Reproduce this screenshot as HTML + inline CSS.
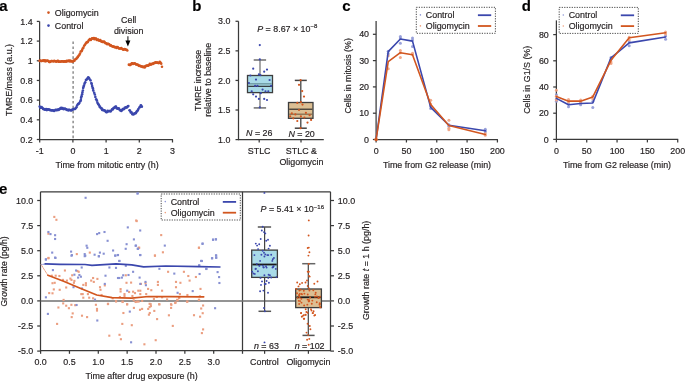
<!DOCTYPE html>
<html><head><meta charset="utf-8"><style>
html,body{margin:0;padding:0;background:#fff;width:685px;height:381px;overflow:hidden}
svg{display:block;font-family:"Liberation Sans",sans-serif;will-change:transform} text{stroke:#231f20;stroke-width:0.18px}
</style></head><body>
<svg width="685" height="381" viewBox="0 0 685 381">
<text x="-0.8" y="10.8" font-size="15" text-anchor="start" fill="#000" font-weight="bold">a</text>
<text x="192.3" y="10.9" font-size="15" text-anchor="start" fill="#000" font-weight="bold">b</text>
<text x="342.3" y="10.5" font-size="15" text-anchor="start" fill="#000" font-weight="bold">c</text>
<text x="521.8" y="10.7" font-size="15" text-anchor="start" fill="#000" font-weight="bold">d</text>
<text x="-0.9" y="194.4" font-size="15" text-anchor="start" fill="#000" font-weight="bold">e</text>
<line x1="39.6" y1="21.42" x2="39.6" y2="140" stroke="#3a3a3a" stroke-width="1.25"/>
<line x1="39.1" y1="139.5" x2="173" y2="139.5" stroke="#3a3a3a" stroke-width="1.25"/>
<line x1="36.8" y1="21.42" x2="39.6" y2="21.42" stroke="#3a3a3a" stroke-width="1.25"/>
<text x="32.6" y="24.58" font-size="8.9" text-anchor="end" fill="#231f20">1.4</text>
<line x1="36.8" y1="41.1" x2="39.6" y2="41.1" stroke="#3a3a3a" stroke-width="1.25"/>
<text x="32.6" y="44.26" font-size="8.9" text-anchor="end" fill="#231f20">1.2</text>
<line x1="36.8" y1="60.78" x2="39.6" y2="60.78" stroke="#3a3a3a" stroke-width="1.25"/>
<text x="32.6" y="63.94" font-size="8.9" text-anchor="end" fill="#231f20">1</text>
<line x1="36.8" y1="80.46" x2="39.6" y2="80.46" stroke="#3a3a3a" stroke-width="1.25"/>
<text x="32.6" y="83.62" font-size="8.9" text-anchor="end" fill="#231f20">0.8</text>
<line x1="36.8" y1="100.14" x2="39.6" y2="100.14" stroke="#3a3a3a" stroke-width="1.25"/>
<text x="32.6" y="103.3" font-size="8.9" text-anchor="end" fill="#231f20">0.6</text>
<line x1="36.8" y1="119.82" x2="39.6" y2="119.82" stroke="#3a3a3a" stroke-width="1.25"/>
<text x="32.6" y="122.98" font-size="8.9" text-anchor="end" fill="#231f20">0.4</text>
<line x1="36.8" y1="139.5" x2="39.6" y2="139.5" stroke="#3a3a3a" stroke-width="1.25"/>
<text x="32.6" y="142.66" font-size="8.9" text-anchor="end" fill="#231f20">0.2</text>
<line x1="39.7" y1="139.5" x2="39.7" y2="142.5" stroke="#3a3a3a" stroke-width="1.25"/>
<text x="39.7" y="153.76" font-size="8.9" text-anchor="middle" fill="#231f20">-1</text>
<line x1="72.9" y1="139.5" x2="72.9" y2="142.5" stroke="#3a3a3a" stroke-width="1.25"/>
<text x="72.9" y="153.76" font-size="8.9" text-anchor="middle" fill="#231f20">0</text>
<line x1="106.1" y1="139.5" x2="106.1" y2="142.5" stroke="#3a3a3a" stroke-width="1.25"/>
<text x="106.1" y="153.76" font-size="8.9" text-anchor="middle" fill="#231f20">1</text>
<line x1="139.3" y1="139.5" x2="139.3" y2="142.5" stroke="#3a3a3a" stroke-width="1.25"/>
<text x="139.3" y="153.76" font-size="8.9" text-anchor="middle" fill="#231f20">2</text>
<line x1="172.5" y1="139.5" x2="172.5" y2="142.5" stroke="#3a3a3a" stroke-width="1.25"/>
<text x="172.5" y="153.76" font-size="8.9" text-anchor="middle" fill="#231f20">3</text>
<text x="107" y="167.76" font-size="8.9" text-anchor="middle" fill="#231f20">Time from mitotic entry (h)</text>
<text x="11.86" y="80" font-size="8.9" text-anchor="middle" fill="#231f20" transform="rotate(-90 11.86 80)">TMRE/mass (a.u.)</text>
<line x1="73.1" y1="41.5" x2="73.1" y2="139" stroke="#707070" stroke-width="1.2" stroke-dasharray="2.6,2.35"/>
<circle cx="48.5" cy="12.6" r="1.3" fill="#d2561f"/>
<text x="54.8" y="15.76" font-size="8.9" text-anchor="start" fill="#231f20">Oligomycin</text>
<circle cx="48.5" cy="25.6" r="1.3" fill="#3b47ad"/>
<text x="54.8" y="28.76" font-size="8.9" text-anchor="start" fill="#231f20">Control</text>
<text x="128.7" y="22.76" font-size="8.9" text-anchor="middle" fill="#231f20">Cell</text>
<text x="128.7" y="33.96" font-size="8.9" text-anchor="middle" fill="#231f20">division</text>
<line x1="127.9" y1="36.2" x2="127.9" y2="42" stroke="#3a3a3a" stroke-width="1.25"/>
<path d="M125.4,40.6 L130.4,40.6 L127.9,46.4 Z" fill="#000"/>
<circle cx="39.55" cy="60.85" r="1.3" fill="#d2561f"/>
<circle cx="40.42" cy="60.64" r="1.3" fill="#d2561f"/>
<circle cx="41.15" cy="60.93" r="1.3" fill="#d2561f"/>
<circle cx="41.78" cy="61.01" r="1.3" fill="#d2561f"/>
<circle cx="42.55" cy="60.81" r="1.3" fill="#d2561f"/>
<circle cx="43.33" cy="60.27" r="1.3" fill="#d2561f"/>
<circle cx="44.21" cy="61.12" r="1.3" fill="#d2561f"/>
<circle cx="44.89" cy="60.24" r="1.3" fill="#d2561f"/>
<circle cx="45.75" cy="61.35" r="1.3" fill="#d2561f"/>
<circle cx="46.45" cy="60.81" r="1.3" fill="#d2561f"/>
<circle cx="47.29" cy="60.52" r="1.3" fill="#d2561f"/>
<circle cx="47.96" cy="61.01" r="1.3" fill="#d2561f"/>
<circle cx="48.46" cy="60.96" r="1.3" fill="#d2561f"/>
<circle cx="49.23" cy="62.04" r="1.3" fill="#d2561f"/>
<circle cx="49.9" cy="61.91" r="1.3" fill="#d2561f"/>
<circle cx="50.76" cy="61.52" r="1.3" fill="#d2561f"/>
<circle cx="51.44" cy="61" r="1.3" fill="#d2561f"/>
<circle cx="52.01" cy="61.07" r="1.3" fill="#d2561f"/>
<circle cx="52.91" cy="61.25" r="1.3" fill="#d2561f"/>
<circle cx="53.52" cy="61.34" r="1.3" fill="#d2561f"/>
<circle cx="54.27" cy="60.85" r="1.3" fill="#d2561f"/>
<circle cx="55.09" cy="61.26" r="1.3" fill="#d2561f"/>
<circle cx="55.64" cy="61.18" r="1.3" fill="#d2561f"/>
<circle cx="56.44" cy="61.66" r="1.3" fill="#d2561f"/>
<circle cx="57.21" cy="60.98" r="1.3" fill="#d2561f"/>
<circle cx="58" cy="60.85" r="1.3" fill="#d2561f"/>
<circle cx="58.55" cy="61.76" r="1.3" fill="#d2561f"/>
<circle cx="59.18" cy="61.5" r="1.3" fill="#d2561f"/>
<circle cx="59.86" cy="61.82" r="1.3" fill="#d2561f"/>
<circle cx="60.83" cy="61.62" r="1.3" fill="#d2561f"/>
<circle cx="61.61" cy="61.21" r="1.3" fill="#d2561f"/>
<circle cx="62.31" cy="61.5" r="1.3" fill="#d2561f"/>
<circle cx="63.02" cy="61.24" r="1.3" fill="#d2561f"/>
<circle cx="63.85" cy="61.8" r="1.3" fill="#d2561f"/>
<circle cx="64.49" cy="61.36" r="1.3" fill="#d2561f"/>
<circle cx="65.12" cy="61.34" r="1.3" fill="#d2561f"/>
<circle cx="66.04" cy="61.64" r="1.3" fill="#d2561f"/>
<circle cx="66.8" cy="60.72" r="1.3" fill="#d2561f"/>
<circle cx="67.37" cy="61.22" r="1.3" fill="#d2561f"/>
<circle cx="67.96" cy="60.95" r="1.3" fill="#d2561f"/>
<circle cx="68.7" cy="60.5" r="1.3" fill="#d2561f"/>
<circle cx="69.37" cy="61.35" r="1.3" fill="#d2561f"/>
<circle cx="70.09" cy="60.67" r="1.3" fill="#d2561f"/>
<circle cx="70.87" cy="61.48" r="1.3" fill="#d2561f"/>
<circle cx="71.47" cy="60.93" r="1.3" fill="#d2561f"/>
<circle cx="72.31" cy="61.5" r="1.3" fill="#d2561f"/>
<circle cx="73.1" cy="61.47" r="1.3" fill="#d2561f"/>
<circle cx="73.68" cy="60.46" r="1.3" fill="#d2561f"/>
<circle cx="74.46" cy="60.65" r="1.3" fill="#d2561f"/>
<circle cx="75.39" cy="59.27" r="1.3" fill="#d2561f"/>
<circle cx="75.9" cy="58.95" r="1.3" fill="#d2561f"/>
<circle cx="76.59" cy="58.51" r="1.3" fill="#d2561f"/>
<circle cx="77.36" cy="57.46" r="1.3" fill="#d2561f"/>
<circle cx="77.85" cy="56.89" r="1.3" fill="#d2561f"/>
<circle cx="78.63" cy="55.87" r="1.3" fill="#d2561f"/>
<circle cx="79.47" cy="54.81" r="1.3" fill="#d2561f"/>
<circle cx="80" cy="53.5" r="1.3" fill="#d2561f"/>
<circle cx="80.72" cy="51.55" r="1.3" fill="#d2561f"/>
<circle cx="81.45" cy="51.28" r="1.3" fill="#d2561f"/>
<circle cx="82.11" cy="50.09" r="1.3" fill="#d2561f"/>
<circle cx="82.73" cy="48.45" r="1.3" fill="#d2561f"/>
<circle cx="83.41" cy="47.64" r="1.3" fill="#d2561f"/>
<circle cx="84.17" cy="45.79" r="1.3" fill="#d2561f"/>
<circle cx="84.98" cy="44.79" r="1.3" fill="#d2561f"/>
<circle cx="85.79" cy="43.54" r="1.3" fill="#d2561f"/>
<circle cx="86.45" cy="42.55" r="1.3" fill="#d2561f"/>
<circle cx="87.14" cy="42.12" r="1.3" fill="#d2561f"/>
<circle cx="87.78" cy="42.09" r="1.3" fill="#d2561f"/>
<circle cx="88.61" cy="40.44" r="1.3" fill="#d2561f"/>
<circle cx="89.17" cy="40" r="1.3" fill="#d2561f"/>
<circle cx="89.86" cy="39.01" r="1.3" fill="#d2561f"/>
<circle cx="90.78" cy="39.94" r="1.3" fill="#d2561f"/>
<circle cx="91.45" cy="39.08" r="1.3" fill="#d2561f"/>
<circle cx="92.12" cy="38.38" r="1.3" fill="#d2561f"/>
<circle cx="92.97" cy="38.39" r="1.3" fill="#d2561f"/>
<circle cx="93.9" cy="38.06" r="1.3" fill="#d2561f"/>
<circle cx="94.39" cy="39.31" r="1.3" fill="#d2561f"/>
<circle cx="95.28" cy="38.49" r="1.3" fill="#d2561f"/>
<circle cx="96.01" cy="38.55" r="1.3" fill="#d2561f"/>
<circle cx="96.74" cy="40.01" r="1.3" fill="#d2561f"/>
<circle cx="97.58" cy="39.87" r="1.3" fill="#d2561f"/>
<circle cx="98.13" cy="39.66" r="1.3" fill="#d2561f"/>
<circle cx="98.83" cy="40.41" r="1.3" fill="#d2561f"/>
<circle cx="99.68" cy="40.64" r="1.3" fill="#d2561f"/>
<circle cx="100.35" cy="40.14" r="1.3" fill="#d2561f"/>
<circle cx="101.24" cy="41.49" r="1.3" fill="#d2561f"/>
<circle cx="101.99" cy="41.61" r="1.3" fill="#d2561f"/>
<circle cx="102.72" cy="41.88" r="1.3" fill="#d2561f"/>
<circle cx="103.29" cy="41.95" r="1.3" fill="#d2561f"/>
<circle cx="104.07" cy="41.67" r="1.3" fill="#d2561f"/>
<circle cx="104.72" cy="42.36" r="1.3" fill="#d2561f"/>
<circle cx="105.53" cy="43.25" r="1.3" fill="#d2561f"/>
<circle cx="106.48" cy="43.26" r="1.3" fill="#d2561f"/>
<circle cx="107.21" cy="44.29" r="1.3" fill="#d2561f"/>
<circle cx="107.96" cy="43.81" r="1.3" fill="#d2561f"/>
<circle cx="108.48" cy="43.96" r="1.3" fill="#d2561f"/>
<circle cx="109.21" cy="44.27" r="1.3" fill="#d2561f"/>
<circle cx="110.08" cy="45.5" r="1.3" fill="#d2561f"/>
<circle cx="110.88" cy="45.28" r="1.3" fill="#d2561f"/>
<circle cx="111.57" cy="46.03" r="1.3" fill="#d2561f"/>
<circle cx="112.14" cy="46.18" r="1.3" fill="#d2561f"/>
<circle cx="113.12" cy="46.67" r="1.3" fill="#d2561f"/>
<circle cx="113.78" cy="46.47" r="1.3" fill="#d2561f"/>
<circle cx="114.3" cy="47.08" r="1.3" fill="#d2561f"/>
<circle cx="115.05" cy="47.29" r="1.3" fill="#d2561f"/>
<circle cx="115.94" cy="46.96" r="1.3" fill="#d2561f"/>
<circle cx="116.47" cy="47.88" r="1.3" fill="#d2561f"/>
<circle cx="117.27" cy="47.07" r="1.3" fill="#d2561f"/>
<circle cx="117.79" cy="47.25" r="1.3" fill="#d2561f"/>
<circle cx="118.72" cy="48.3" r="1.3" fill="#d2561f"/>
<circle cx="119.19" cy="48.52" r="1.3" fill="#d2561f"/>
<circle cx="120.14" cy="48.5" r="1.3" fill="#d2561f"/>
<circle cx="120.7" cy="48.53" r="1.3" fill="#d2561f"/>
<circle cx="121.37" cy="48.01" r="1.3" fill="#d2561f"/>
<circle cx="122.36" cy="49" r="1.3" fill="#d2561f"/>
<circle cx="122.97" cy="49.54" r="1.3" fill="#d2561f"/>
<circle cx="123.68" cy="49.63" r="1.3" fill="#d2561f"/>
<circle cx="124.54" cy="48.94" r="1.3" fill="#d2561f"/>
<circle cx="125.11" cy="49.22" r="1.3" fill="#d2561f"/>
<circle cx="125.84" cy="49.77" r="1.3" fill="#d2561f"/>
<circle cx="126.59" cy="49.72" r="1.3" fill="#d2561f"/>
<circle cx="127.29" cy="50.53" r="1.3" fill="#d2561f"/>
<circle cx="128.86" cy="64.65" r="1.3" fill="#d2561f"/>
<circle cx="129.64" cy="65.05" r="1.3" fill="#d2561f"/>
<circle cx="130.3" cy="64.89" r="1.3" fill="#d2561f"/>
<circle cx="131.04" cy="64.22" r="1.3" fill="#d2561f"/>
<circle cx="131.76" cy="63.37" r="1.3" fill="#d2561f"/>
<circle cx="132.44" cy="63.41" r="1.3" fill="#d2561f"/>
<circle cx="133.03" cy="64.04" r="1.3" fill="#d2561f"/>
<circle cx="133.79" cy="63.44" r="1.3" fill="#d2561f"/>
<circle cx="134.67" cy="63.37" r="1.3" fill="#d2561f"/>
<circle cx="135.28" cy="63.7" r="1.3" fill="#d2561f"/>
<circle cx="136.07" cy="64.41" r="1.3" fill="#d2561f"/>
<circle cx="136.67" cy="64.49" r="1.3" fill="#d2561f"/>
<circle cx="137.44" cy="64.5" r="1.3" fill="#d2561f"/>
<circle cx="138.32" cy="65.17" r="1.3" fill="#d2561f"/>
<circle cx="138.99" cy="65.87" r="1.3" fill="#d2561f"/>
<circle cx="139.82" cy="65.83" r="1.3" fill="#d2561f"/>
<circle cx="140.45" cy="66.05" r="1.3" fill="#d2561f"/>
<circle cx="141.13" cy="66.44" r="1.3" fill="#d2561f"/>
<circle cx="141.83" cy="66.37" r="1.3" fill="#d2561f"/>
<circle cx="142.55" cy="67.05" r="1.3" fill="#d2561f"/>
<circle cx="143.33" cy="67.1" r="1.3" fill="#d2561f"/>
<circle cx="144.12" cy="66.44" r="1.3" fill="#d2561f"/>
<circle cx="144.72" cy="67.48" r="1.3" fill="#d2561f"/>
<circle cx="145.53" cy="66.07" r="1.3" fill="#d2561f"/>
<circle cx="146.04" cy="66.1" r="1.3" fill="#d2561f"/>
<circle cx="146.75" cy="65.48" r="1.3" fill="#d2561f"/>
<circle cx="147.47" cy="65.67" r="1.3" fill="#d2561f"/>
<circle cx="148.41" cy="65.6" r="1.3" fill="#d2561f"/>
<circle cx="148.95" cy="65.01" r="1.3" fill="#d2561f"/>
<circle cx="149.82" cy="63.9" r="1.3" fill="#d2561f"/>
<circle cx="150.61" cy="64.61" r="1.3" fill="#d2561f"/>
<circle cx="151.14" cy="64.45" r="1.3" fill="#d2561f"/>
<circle cx="151.93" cy="63.7" r="1.3" fill="#d2561f"/>
<circle cx="152.83" cy="64" r="1.3" fill="#d2561f"/>
<circle cx="153.31" cy="63.34" r="1.3" fill="#d2561f"/>
<circle cx="154.15" cy="63.08" r="1.3" fill="#d2561f"/>
<circle cx="154.78" cy="62.91" r="1.3" fill="#d2561f"/>
<circle cx="155.67" cy="62.38" r="1.3" fill="#d2561f"/>
<circle cx="156.33" cy="62.79" r="1.3" fill="#d2561f"/>
<circle cx="156.88" cy="62.52" r="1.3" fill="#d2561f"/>
<circle cx="157.78" cy="62.63" r="1.3" fill="#d2561f"/>
<circle cx="158.33" cy="63.12" r="1.3" fill="#d2561f"/>
<circle cx="159.26" cy="62.97" r="1.3" fill="#d2561f"/>
<circle cx="159.77" cy="61.92" r="1.3" fill="#d2561f"/>
<circle cx="160.46" cy="62.46" r="1.3" fill="#d2561f"/>
<circle cx="161.23" cy="63.67" r="1.3" fill="#d2561f"/>
<circle cx="161.98" cy="66.73" r="1.3" fill="#d2561f"/>
<circle cx="39.7" cy="106.49" r="1.3" fill="#3b47ad"/>
<circle cx="40.22" cy="107.66" r="1.3" fill="#3b47ad"/>
<circle cx="41.08" cy="107.69" r="1.3" fill="#3b47ad"/>
<circle cx="41.66" cy="107.17" r="1.3" fill="#3b47ad"/>
<circle cx="42.57" cy="107.96" r="1.3" fill="#3b47ad"/>
<circle cx="43.11" cy="108.94" r="1.3" fill="#3b47ad"/>
<circle cx="44.01" cy="109.08" r="1.3" fill="#3b47ad"/>
<circle cx="44.58" cy="109.46" r="1.3" fill="#3b47ad"/>
<circle cx="45.29" cy="109.65" r="1.3" fill="#3b47ad"/>
<circle cx="46.12" cy="109.14" r="1.3" fill="#3b47ad"/>
<circle cx="46.87" cy="110.08" r="1.3" fill="#3b47ad"/>
<circle cx="47.5" cy="109.22" r="1.3" fill="#3b47ad"/>
<circle cx="48.29" cy="109.53" r="1.3" fill="#3b47ad"/>
<circle cx="48.88" cy="109.61" r="1.3" fill="#3b47ad"/>
<circle cx="49.58" cy="109.84" r="1.3" fill="#3b47ad"/>
<circle cx="50.38" cy="110.15" r="1.3" fill="#3b47ad"/>
<circle cx="51.23" cy="110.3" r="1.3" fill="#3b47ad"/>
<circle cx="51.87" cy="110.33" r="1.3" fill="#3b47ad"/>
<circle cx="52.54" cy="110.3" r="1.3" fill="#3b47ad"/>
<circle cx="53.23" cy="110.47" r="1.3" fill="#3b47ad"/>
<circle cx="54.1" cy="110.9" r="1.3" fill="#3b47ad"/>
<circle cx="54.66" cy="110.54" r="1.3" fill="#3b47ad"/>
<circle cx="55.61" cy="109.8" r="1.3" fill="#3b47ad"/>
<circle cx="56.3" cy="109.96" r="1.3" fill="#3b47ad"/>
<circle cx="56.93" cy="110.22" r="1.3" fill="#3b47ad"/>
<circle cx="57.63" cy="109.53" r="1.3" fill="#3b47ad"/>
<circle cx="58.45" cy="109.88" r="1.3" fill="#3b47ad"/>
<circle cx="59.07" cy="109.42" r="1.3" fill="#3b47ad"/>
<circle cx="59.91" cy="108.9" r="1.3" fill="#3b47ad"/>
<circle cx="60.54" cy="108.27" r="1.3" fill="#3b47ad"/>
<circle cx="61.17" cy="107.72" r="1.3" fill="#3b47ad"/>
<circle cx="61.89" cy="108.67" r="1.3" fill="#3b47ad"/>
<circle cx="62.67" cy="108.08" r="1.3" fill="#3b47ad"/>
<circle cx="63.34" cy="109.12" r="1.3" fill="#3b47ad"/>
<circle cx="64.3" cy="109.05" r="1.3" fill="#3b47ad"/>
<circle cx="64.84" cy="108.65" r="1.3" fill="#3b47ad"/>
<circle cx="65.57" cy="109.09" r="1.3" fill="#3b47ad"/>
<circle cx="66.25" cy="109.23" r="1.3" fill="#3b47ad"/>
<circle cx="67" cy="110.06" r="1.3" fill="#3b47ad"/>
<circle cx="67.93" cy="109.68" r="1.3" fill="#3b47ad"/>
<circle cx="68.44" cy="110.38" r="1.3" fill="#3b47ad"/>
<circle cx="69.18" cy="109.74" r="1.3" fill="#3b47ad"/>
<circle cx="69.81" cy="109.93" r="1.3" fill="#3b47ad"/>
<circle cx="70.67" cy="110.25" r="1.3" fill="#3b47ad"/>
<circle cx="71.31" cy="110.41" r="1.3" fill="#3b47ad"/>
<circle cx="71.97" cy="109.81" r="1.3" fill="#3b47ad"/>
<circle cx="72.72" cy="109.71" r="1.3" fill="#3b47ad"/>
<circle cx="73.42" cy="108.94" r="1.3" fill="#3b47ad"/>
<circle cx="74.22" cy="108.93" r="1.3" fill="#3b47ad"/>
<circle cx="75.03" cy="109.04" r="1.3" fill="#3b47ad"/>
<circle cx="75.78" cy="108.1" r="1.3" fill="#3b47ad"/>
<circle cx="76.46" cy="107.29" r="1.3" fill="#3b47ad"/>
<circle cx="77.07" cy="105.47" r="1.3" fill="#3b47ad"/>
<circle cx="77.95" cy="104.14" r="1.3" fill="#3b47ad"/>
<circle cx="78.72" cy="103.79" r="1.3" fill="#3b47ad"/>
<circle cx="79.36" cy="103.04" r="1.3" fill="#3b47ad"/>
<circle cx="80.27" cy="101.22" r="1.3" fill="#3b47ad"/>
<circle cx="80.87" cy="99.91" r="1.3" fill="#3b47ad"/>
<circle cx="81.09" cy="97.63" r="1.3" fill="#3b47ad"/>
<circle cx="81.6" cy="96.14" r="1.3" fill="#3b47ad"/>
<circle cx="82.09" cy="94.22" r="1.3" fill="#3b47ad"/>
<circle cx="82.43" cy="92.41" r="1.3" fill="#3b47ad"/>
<circle cx="82.87" cy="90.47" r="1.3" fill="#3b47ad"/>
<circle cx="83.16" cy="87.93" r="1.3" fill="#3b47ad"/>
<circle cx="83.55" cy="86.68" r="1.3" fill="#3b47ad"/>
<circle cx="83.96" cy="85.62" r="1.3" fill="#3b47ad"/>
<circle cx="84.52" cy="83.67" r="1.3" fill="#3b47ad"/>
<circle cx="85.24" cy="82.33" r="1.3" fill="#3b47ad"/>
<circle cx="85.9" cy="80.05" r="1.3" fill="#3b47ad"/>
<circle cx="86.69" cy="79.62" r="1.3" fill="#3b47ad"/>
<circle cx="87.4" cy="78.6" r="1.3" fill="#3b47ad"/>
<circle cx="88.25" cy="77.24" r="1.3" fill="#3b47ad"/>
<circle cx="88.92" cy="78.08" r="1.3" fill="#3b47ad"/>
<circle cx="89.37" cy="78.7" r="1.3" fill="#3b47ad"/>
<circle cx="90.47" cy="80.37" r="1.3" fill="#3b47ad"/>
<circle cx="91.37" cy="83.12" r="1.3" fill="#3b47ad"/>
<circle cx="91.72" cy="84.03" r="1.3" fill="#3b47ad"/>
<circle cx="92.13" cy="86.1" r="1.3" fill="#3b47ad"/>
<circle cx="92.64" cy="87.69" r="1.3" fill="#3b47ad"/>
<circle cx="93.02" cy="88.67" r="1.3" fill="#3b47ad"/>
<circle cx="93.29" cy="90.58" r="1.3" fill="#3b47ad"/>
<circle cx="94.17" cy="92.75" r="1.3" fill="#3b47ad"/>
<circle cx="94.82" cy="94.47" r="1.3" fill="#3b47ad"/>
<circle cx="95.37" cy="96.9" r="1.3" fill="#3b47ad"/>
<circle cx="96.2" cy="99.27" r="1.3" fill="#3b47ad"/>
<circle cx="96.85" cy="100.58" r="1.3" fill="#3b47ad"/>
<circle cx="97.45" cy="102.63" r="1.3" fill="#3b47ad"/>
<circle cx="98.09" cy="104" r="1.3" fill="#3b47ad"/>
<circle cx="98.92" cy="104.91" r="1.3" fill="#3b47ad"/>
<circle cx="99.64" cy="106.67" r="1.3" fill="#3b47ad"/>
<circle cx="100.06" cy="106.85" r="1.3" fill="#3b47ad"/>
<circle cx="101" cy="108.31" r="1.3" fill="#3b47ad"/>
<circle cx="101.58" cy="108.2" r="1.3" fill="#3b47ad"/>
<circle cx="102.21" cy="109.88" r="1.3" fill="#3b47ad"/>
<circle cx="102.95" cy="109.91" r="1.3" fill="#3b47ad"/>
<circle cx="103.67" cy="110.33" r="1.3" fill="#3b47ad"/>
<circle cx="104.66" cy="110.32" r="1.3" fill="#3b47ad"/>
<circle cx="105.36" cy="111.31" r="1.3" fill="#3b47ad"/>
<circle cx="106.12" cy="112.06" r="1.3" fill="#3b47ad"/>
<circle cx="106.69" cy="112.18" r="1.3" fill="#3b47ad"/>
<circle cx="107.53" cy="110.92" r="1.3" fill="#3b47ad"/>
<circle cx="108.15" cy="111.39" r="1.3" fill="#3b47ad"/>
<circle cx="109.05" cy="111.01" r="1.3" fill="#3b47ad"/>
<circle cx="109.73" cy="110.93" r="1.3" fill="#3b47ad"/>
<circle cx="110.54" cy="111.44" r="1.3" fill="#3b47ad"/>
<circle cx="111.12" cy="110.73" r="1.3" fill="#3b47ad"/>
<circle cx="112.04" cy="109.31" r="1.3" fill="#3b47ad"/>
<circle cx="112.74" cy="109.48" r="1.3" fill="#3b47ad"/>
<circle cx="113.41" cy="108.33" r="1.3" fill="#3b47ad"/>
<circle cx="113.92" cy="107.86" r="1.3" fill="#3b47ad"/>
<circle cx="114.78" cy="107.52" r="1.3" fill="#3b47ad"/>
<circle cx="115.26" cy="106.71" r="1.3" fill="#3b47ad"/>
<circle cx="115.98" cy="106.66" r="1.3" fill="#3b47ad"/>
<circle cx="116.68" cy="108.14" r="1.3" fill="#3b47ad"/>
<circle cx="117.49" cy="108.72" r="1.3" fill="#3b47ad"/>
<circle cx="118.22" cy="108.3" r="1.3" fill="#3b47ad"/>
<circle cx="119.05" cy="108.65" r="1.3" fill="#3b47ad"/>
<circle cx="119.76" cy="110.09" r="1.3" fill="#3b47ad"/>
<circle cx="120.67" cy="110.36" r="1.3" fill="#3b47ad"/>
<circle cx="121.34" cy="110.94" r="1.3" fill="#3b47ad"/>
<circle cx="122.13" cy="110.05" r="1.3" fill="#3b47ad"/>
<circle cx="122.77" cy="108.99" r="1.3" fill="#3b47ad"/>
<circle cx="123.47" cy="109.11" r="1.3" fill="#3b47ad"/>
<circle cx="124.18" cy="108.95" r="1.3" fill="#3b47ad"/>
<circle cx="124.74" cy="107.76" r="1.3" fill="#3b47ad"/>
<circle cx="125.63" cy="107.46" r="1.3" fill="#3b47ad"/>
<circle cx="126.19" cy="107.33" r="1.3" fill="#3b47ad"/>
<circle cx="126.84" cy="107.43" r="1.3" fill="#3b47ad"/>
<circle cx="127.74" cy="106.4" r="1.3" fill="#3b47ad"/>
<circle cx="128.35" cy="106.04" r="1.3" fill="#3b47ad"/>
<circle cx="129.52" cy="110.26" r="1.3" fill="#3b47ad"/>
<circle cx="130.08" cy="110.74" r="1.3" fill="#3b47ad"/>
<circle cx="130.78" cy="112.49" r="1.3" fill="#3b47ad"/>
<circle cx="131.55" cy="112.39" r="1.3" fill="#3b47ad"/>
<circle cx="132.36" cy="114.18" r="1.3" fill="#3b47ad"/>
<circle cx="132.9" cy="113.85" r="1.3" fill="#3b47ad"/>
<circle cx="133.51" cy="114.57" r="1.3" fill="#3b47ad"/>
<circle cx="134.25" cy="113.79" r="1.3" fill="#3b47ad"/>
<circle cx="134.92" cy="113.22" r="1.3" fill="#3b47ad"/>
<circle cx="135.72" cy="113.25" r="1.3" fill="#3b47ad"/>
<circle cx="136.47" cy="111.85" r="1.3" fill="#3b47ad"/>
<circle cx="137.07" cy="111.21" r="1.3" fill="#3b47ad"/>
<circle cx="137.76" cy="110.19" r="1.3" fill="#3b47ad"/>
<circle cx="138.39" cy="108.94" r="1.3" fill="#3b47ad"/>
<circle cx="139.39" cy="107.56" r="1.3" fill="#3b47ad"/>
<circle cx="139.98" cy="107.04" r="1.3" fill="#3b47ad"/>
<circle cx="140.81" cy="105.33" r="1.3" fill="#3b47ad"/>
<circle cx="141.23" cy="105.92" r="1.3" fill="#3b47ad"/>
<circle cx="141.87" cy="106.73" r="1.3" fill="#3b47ad"/>
<line x1="238.5" y1="21.28" x2="238.5" y2="140.1" stroke="#3a3a3a" stroke-width="1.25"/>
<line x1="238" y1="139.6" x2="323.8" y2="139.6" stroke="#3a3a3a" stroke-width="1.25"/>
<line x1="235.5" y1="21.28" x2="238.5" y2="21.28" stroke="#3a3a3a" stroke-width="1.25"/>
<text x="230.4" y="24.44" font-size="8.9" text-anchor="end" fill="#231f20">3.0</text>
<line x1="235.5" y1="50.86" x2="238.5" y2="50.86" stroke="#3a3a3a" stroke-width="1.25"/>
<text x="230.4" y="54.02" font-size="8.9" text-anchor="end" fill="#231f20">2.5</text>
<line x1="235.5" y1="80.44" x2="238.5" y2="80.44" stroke="#3a3a3a" stroke-width="1.25"/>
<text x="230.4" y="83.6" font-size="8.9" text-anchor="end" fill="#231f20">2.0</text>
<line x1="235.5" y1="110.02" x2="238.5" y2="110.02" stroke="#3a3a3a" stroke-width="1.25"/>
<text x="230.4" y="113.18" font-size="8.9" text-anchor="end" fill="#231f20">1.5</text>
<line x1="235.5" y1="139.6" x2="238.5" y2="139.6" stroke="#3a3a3a" stroke-width="1.25"/>
<text x="230.4" y="142.76" font-size="8.9" text-anchor="end" fill="#231f20">1.0</text>
<line x1="259.2" y1="139.6" x2="259.2" y2="142.6" stroke="#3a3a3a" stroke-width="1.25"/>
<line x1="301" y1="139.6" x2="301" y2="142.6" stroke="#3a3a3a" stroke-width="1.25"/>
<text x="259.2" y="153.96" font-size="8.9" text-anchor="middle" fill="#231f20">STLC</text>
<text x="301.4" y="153.96" font-size="8.9" text-anchor="middle" fill="#231f20">STLC &amp;</text>
<text x="301.4" y="164.56" font-size="8.9" text-anchor="middle" fill="#231f20">Oligomycin</text>
<text x="201.06" y="80.3" font-size="8.9" text-anchor="middle" fill="#231f20" transform="rotate(-90 201.06 80.3)">TMRE increase</text>
<text x="211.26" y="79.8" font-size="8.9" text-anchor="middle" fill="#231f20" transform="rotate(-90 211.26 79.8)">relative to baseline</text>
<text x="257.2" y="31.6" font-size="8.9" text-anchor="start" fill="#231f20"><tspan font-style="italic">P</tspan> = 8.67 × 10<tspan font-size="6" dy="-3.3">−8</tspan></text>
<text x="246" y="135.96" font-size="8.9" text-anchor="start" fill="#231f20"><tspan font-style="italic">N</tspan> = 26</text>
<text x="288.4" y="136.96" font-size="8.9" text-anchor="start" fill="#231f20"><tspan font-style="italic">N</tspan> = 20</text>
<line x1="260" y1="60" x2="260" y2="107.9" stroke="#808080" stroke-width="1.4"/>
<line x1="253.7" y1="60" x2="266.1" y2="60" stroke="#777" stroke-width="1.6"/>
<line x1="253.7" y1="107.9" x2="266.1" y2="107.9" stroke="#777" stroke-width="1.6"/>
<rect x="247.5" y="75.5" width="25" height="17.1" fill="#a9dbe8" stroke="#3d3d3d" stroke-width="1.3"/>
<line x1="248.2" y1="83.8" x2="271.8" y2="83.8" stroke="#6f9aa3" stroke-width="1.4"/>
<line x1="248.2" y1="86.3" x2="271.8" y2="86.3" stroke="#222" stroke-width="1.1"/>
<line x1="300.8" y1="80.4" x2="300.8" y2="128.2" stroke="#444" stroke-width="1.3"/>
<line x1="294.8" y1="80.4" x2="306.8" y2="80.4" stroke="#444" stroke-width="1.5"/>
<line x1="294.8" y1="128.2" x2="306.8" y2="128.2" stroke="#444" stroke-width="1.5"/>
<rect x="288.5" y="102.5" width="24.5" height="15.8" fill="#dcbf93" stroke="#3d3d3d" stroke-width="1.3"/>
<line x1="289.2" y1="109.2" x2="312.3" y2="109.2" stroke="#222" stroke-width="1.1"/>
<line x1="289.2" y1="114.2" x2="312.3" y2="114.2" stroke="#7b664a" stroke-width="1.2"/>
<circle cx="259.8" cy="45.1" r="1.1" fill="#3b47ad"/>
<circle cx="259.8" cy="59.4" r="1.1" fill="#3b47ad"/>
<circle cx="253.2" cy="68.7" r="1.1" fill="#3b47ad"/>
<circle cx="264.2" cy="71.7" r="1.1" fill="#3b47ad"/>
<circle cx="267" cy="69.6" r="1.1" fill="#3b47ad"/>
<circle cx="258.9" cy="74.3" r="1.1" fill="#3b47ad"/>
<circle cx="260.4" cy="75.1" r="1.1" fill="#3b47ad"/>
<circle cx="250.4" cy="75.5" r="1.1" fill="#3b47ad"/>
<circle cx="256" cy="79.6" r="1.1" fill="#3b47ad"/>
<circle cx="269.6" cy="80" r="1.1" fill="#3b47ad"/>
<circle cx="248.9" cy="83" r="1.1" fill="#3b47ad"/>
<circle cx="255.1" cy="85.8" r="1.1" fill="#3b47ad"/>
<circle cx="257.5" cy="85.8" r="1.1" fill="#3b47ad"/>
<circle cx="271.1" cy="85.8" r="1.1" fill="#3b47ad"/>
<circle cx="251.7" cy="91.3" r="1.1" fill="#3b47ad"/>
<circle cx="262.6" cy="89.6" r="1.1" fill="#3b47ad"/>
<circle cx="265.5" cy="91.3" r="1.1" fill="#3b47ad"/>
<circle cx="268.3" cy="91.3" r="1.1" fill="#3b47ad"/>
<circle cx="260.8" cy="93.2" r="1.1" fill="#3b47ad"/>
<circle cx="253.2" cy="94.3" r="1.1" fill="#3b47ad"/>
<circle cx="256" cy="96.6" r="1.1" fill="#3b47ad"/>
<circle cx="258.9" cy="98.9" r="1.1" fill="#3b47ad"/>
<circle cx="264.2" cy="98.9" r="1.1" fill="#3b47ad"/>
<circle cx="267" cy="100" r="1.1" fill="#3b47ad"/>
<circle cx="259.8" cy="107.4" r="1.1" fill="#3b47ad"/>
<circle cx="300.6" cy="80.2" r="1.1" fill="#d2561f"/>
<circle cx="299" cy="84.8" r="1.1" fill="#d2561f"/>
<circle cx="302.2" cy="91.1" r="1.1" fill="#d2561f"/>
<circle cx="304" cy="96.6" r="1.1" fill="#d2561f"/>
<circle cx="297.3" cy="102.9" r="1.1" fill="#d2561f"/>
<circle cx="300.9" cy="102.1" r="1.1" fill="#d2561f"/>
<circle cx="302.5" cy="104.6" r="1.1" fill="#d2561f"/>
<circle cx="299" cy="110" r="1.1" fill="#d2561f"/>
<circle cx="291.8" cy="113.3" r="1.1" fill="#d2561f"/>
<circle cx="295.4" cy="114.4" r="1.1" fill="#d2561f"/>
<circle cx="305.9" cy="112.8" r="1.1" fill="#d2561f"/>
<circle cx="309.6" cy="115.2" r="1.1" fill="#d2561f"/>
<circle cx="290.2" cy="116.3" r="1.1" fill="#d2561f"/>
<circle cx="300.9" cy="116.3" r="1.1" fill="#d2561f"/>
<circle cx="293.3" cy="118.3" r="1.1" fill="#d2561f"/>
<circle cx="304.4" cy="117.5" r="1.1" fill="#d2561f"/>
<circle cx="311.1" cy="119.9" r="1.1" fill="#d2561f"/>
<circle cx="297.3" cy="121" r="1.1" fill="#d2561f"/>
<circle cx="307.5" cy="122.6" r="1.1" fill="#d2561f"/>
<circle cx="300.6" cy="128.2" r="1.1" fill="#d2561f"/>
<line x1="376.1" y1="21" x2="376.1" y2="140" stroke="#3a3a3a" stroke-width="1.25"/>
<line x1="375.6" y1="139.5" x2="497.92" y2="139.5" stroke="#3a3a3a" stroke-width="1.25"/>
<line x1="372.9" y1="139.5" x2="376.1" y2="139.5" stroke="#3a3a3a" stroke-width="1.25"/>
<text x="369" y="142.66" font-size="8.9" text-anchor="end" fill="#231f20">0</text>
<line x1="372.9" y1="113.2" x2="376.1" y2="113.2" stroke="#3a3a3a" stroke-width="1.25"/>
<text x="369" y="116.36" font-size="8.9" text-anchor="end" fill="#231f20">10</text>
<line x1="372.9" y1="86.9" x2="376.1" y2="86.9" stroke="#3a3a3a" stroke-width="1.25"/>
<text x="369" y="90.06" font-size="8.9" text-anchor="end" fill="#231f20">20</text>
<line x1="372.9" y1="60.6" x2="376.1" y2="60.6" stroke="#3a3a3a" stroke-width="1.25"/>
<text x="369" y="63.76" font-size="8.9" text-anchor="end" fill="#231f20">30</text>
<line x1="372.9" y1="34.3" x2="376.1" y2="34.3" stroke="#3a3a3a" stroke-width="1.25"/>
<text x="369" y="37.46" font-size="8.9" text-anchor="end" fill="#231f20">40</text>
<line x1="376.1" y1="139.5" x2="376.1" y2="142.5" stroke="#3a3a3a" stroke-width="1.25"/>
<text x="376.1" y="153.76" font-size="8.9" text-anchor="middle" fill="#231f20">0</text>
<line x1="406.43" y1="139.5" x2="406.43" y2="142.5" stroke="#3a3a3a" stroke-width="1.25"/>
<text x="406.43" y="153.76" font-size="8.9" text-anchor="middle" fill="#231f20">50</text>
<line x1="436.76" y1="139.5" x2="436.76" y2="142.5" stroke="#3a3a3a" stroke-width="1.25"/>
<text x="436.76" y="153.76" font-size="8.9" text-anchor="middle" fill="#231f20">100</text>
<line x1="467.09" y1="139.5" x2="467.09" y2="142.5" stroke="#3a3a3a" stroke-width="1.25"/>
<text x="467.09" y="153.76" font-size="8.9" text-anchor="middle" fill="#231f20">150</text>
<line x1="497.42" y1="139.5" x2="497.42" y2="142.5" stroke="#3a3a3a" stroke-width="1.25"/>
<text x="497.42" y="153.76" font-size="8.9" text-anchor="middle" fill="#231f20">200</text>
<text x="437" y="167.86" font-size="8.9" text-anchor="middle" fill="#231f20">Time from G2 release (min)</text>
<text x="351.16" y="75.8" font-size="8.9" text-anchor="middle" fill="#231f20" transform="rotate(-90 351.16 75.8)">Cells in mitosis (%)</text>
<circle cx="388.23" cy="51.13" r="1.5" fill="#8e97d6" fill-opacity="0.9"/>
<circle cx="388.23" cy="53.76" r="1.5" fill="#8e97d6" fill-opacity="0.9"/>
<circle cx="400.36" cy="36.4" r="1.5" fill="#8e97d6" fill-opacity="0.9"/>
<circle cx="400.36" cy="37.98" r="1.5" fill="#8e97d6" fill-opacity="0.9"/>
<circle cx="400.36" cy="43.24" r="1.5" fill="#8e97d6" fill-opacity="0.9"/>
<circle cx="412.5" cy="37.98" r="1.5" fill="#8e97d6" fill-opacity="0.9"/>
<circle cx="412.5" cy="40.09" r="1.5" fill="#8e97d6" fill-opacity="0.9"/>
<circle cx="412.5" cy="46.4" r="1.5" fill="#8e97d6" fill-opacity="0.9"/>
<circle cx="430.69" cy="106.1" r="1.5" fill="#8e97d6" fill-opacity="0.9"/>
<circle cx="430.69" cy="108.47" r="1.5" fill="#8e97d6" fill-opacity="0.9"/>
<circle cx="448.89" cy="124.77" r="1.5" fill="#8e97d6" fill-opacity="0.9"/>
<circle cx="448.89" cy="126.35" r="1.5" fill="#8e97d6" fill-opacity="0.9"/>
<circle cx="485.29" cy="129.24" r="1.5" fill="#8e97d6" fill-opacity="0.9"/>
<circle cx="485.29" cy="130.82" r="1.5" fill="#8e97d6" fill-opacity="0.9"/>
<circle cx="485.29" cy="131.87" r="1.5" fill="#8e97d6" fill-opacity="0.9"/>
<circle cx="388.23" cy="55.87" r="1.5" fill="#efa07e" fill-opacity="0.9"/>
<circle cx="388.23" cy="68.75" r="1.5" fill="#efa07e" fill-opacity="0.9"/>
<circle cx="400.36" cy="50.61" r="1.5" fill="#efa07e" fill-opacity="0.9"/>
<circle cx="400.36" cy="52.71" r="1.5" fill="#efa07e" fill-opacity="0.9"/>
<circle cx="400.36" cy="57.44" r="1.5" fill="#efa07e" fill-opacity="0.9"/>
<circle cx="412.5" cy="53.24" r="1.5" fill="#efa07e" fill-opacity="0.9"/>
<circle cx="412.5" cy="54.55" r="1.5" fill="#efa07e" fill-opacity="0.9"/>
<circle cx="430.69" cy="100.31" r="1.5" fill="#efa07e" fill-opacity="0.9"/>
<circle cx="430.69" cy="104" r="1.5" fill="#efa07e" fill-opacity="0.9"/>
<circle cx="448.89" cy="120.3" r="1.5" fill="#efa07e" fill-opacity="0.9"/>
<circle cx="448.89" cy="128.19" r="1.5" fill="#efa07e" fill-opacity="0.9"/>
<circle cx="448.89" cy="129.77" r="1.5" fill="#efa07e" fill-opacity="0.9"/>
<circle cx="485.29" cy="133.71" r="1.5" fill="#efa07e" fill-opacity="0.9"/>
<circle cx="485.29" cy="135.29" r="1.5" fill="#efa07e" fill-opacity="0.9"/>
<circle cx="376.1" cy="139.5" r="1.5" fill="#efa07e" fill-opacity="0.9"/>
<polyline points="376.1,139.5 388.23,51.66 400.36,39.03 412.5,41.14 430.69,107.41 448.89,125.3 485.29,130.82" fill="none" stroke="#3b47ad" stroke-width="1.6" stroke-linejoin="round" stroke-linecap="round"/>
<polyline points="376.1,139.5 388.23,61.65 400.36,52.71 412.5,54.81 430.69,104.52 448.89,125.56 485.29,134.5" fill="none" stroke="#d2561f" stroke-width="1.6" stroke-linejoin="round" stroke-linecap="round"/>
<circle cx="376.1" cy="139.5" r="1.7" fill="#d2561f"/>
<rect x="416.3" y="7.3" width="79.1" height="26" fill="none" stroke="#333" stroke-width="0.9" stroke-dasharray="1.2,1.3"/>
<circle cx="420.4" cy="14.9" r="0.8" fill="#8e97d6"/>
<text x="425.8" y="18.06" font-size="8.9" text-anchor="start" fill="#231f20">Control</text>
<circle cx="420.4" cy="25.9" r="0.8" fill="#efa07e"/>
<text x="425.8" y="29.06" font-size="8.9" text-anchor="start" fill="#231f20">Oligomycin</text>
<line x1="477.9" y1="15.2" x2="491.2" y2="15.2" stroke="#3b47ad" stroke-width="1.8"/>
<line x1="477.9" y1="26" x2="491.2" y2="26" stroke="#d2561f" stroke-width="1.8"/>
<line x1="556.4" y1="20.4" x2="556.4" y2="139.9" stroke="#3a3a3a" stroke-width="1.25"/>
<line x1="555.9" y1="139.4" x2="678.22" y2="139.4" stroke="#3a3a3a" stroke-width="1.25"/>
<line x1="553.2" y1="139.4" x2="556.4" y2="139.4" stroke="#3a3a3a" stroke-width="1.25"/>
<text x="548.8" y="142.56" font-size="8.9" text-anchor="end" fill="#231f20">0</text>
<line x1="553.2" y1="113.2" x2="556.4" y2="113.2" stroke="#3a3a3a" stroke-width="1.25"/>
<text x="548.8" y="116.36" font-size="8.9" text-anchor="end" fill="#231f20">20</text>
<line x1="553.2" y1="87" x2="556.4" y2="87" stroke="#3a3a3a" stroke-width="1.25"/>
<text x="548.8" y="90.16" font-size="8.9" text-anchor="end" fill="#231f20">40</text>
<line x1="553.2" y1="60.8" x2="556.4" y2="60.8" stroke="#3a3a3a" stroke-width="1.25"/>
<text x="548.8" y="63.96" font-size="8.9" text-anchor="end" fill="#231f20">60</text>
<line x1="553.2" y1="34.6" x2="556.4" y2="34.6" stroke="#3a3a3a" stroke-width="1.25"/>
<text x="548.8" y="37.76" font-size="8.9" text-anchor="end" fill="#231f20">80</text>
<line x1="556.4" y1="139.4" x2="556.4" y2="142.4" stroke="#3a3a3a" stroke-width="1.25"/>
<text x="556.4" y="153.76" font-size="8.9" text-anchor="middle" fill="#231f20">0</text>
<line x1="586.73" y1="139.4" x2="586.73" y2="142.4" stroke="#3a3a3a" stroke-width="1.25"/>
<text x="586.73" y="153.76" font-size="8.9" text-anchor="middle" fill="#231f20">50</text>
<line x1="617.06" y1="139.4" x2="617.06" y2="142.4" stroke="#3a3a3a" stroke-width="1.25"/>
<text x="617.06" y="153.76" font-size="8.9" text-anchor="middle" fill="#231f20">100</text>
<line x1="647.39" y1="139.4" x2="647.39" y2="142.4" stroke="#3a3a3a" stroke-width="1.25"/>
<text x="647.39" y="153.76" font-size="8.9" text-anchor="middle" fill="#231f20">150</text>
<line x1="677.72" y1="139.4" x2="677.72" y2="142.4" stroke="#3a3a3a" stroke-width="1.25"/>
<text x="677.72" y="153.76" font-size="8.9" text-anchor="middle" fill="#231f20">200</text>
<text x="617" y="167.86" font-size="8.9" text-anchor="middle" fill="#231f20">Time from G2 release (min)</text>
<text x="530.26" y="79.8" font-size="8.9" text-anchor="middle" fill="#231f20" transform="rotate(-90 530.26 79.8)">Cells in G1/S (%)</text>
<circle cx="556.4" cy="94.73" r="1.5" fill="#8e97d6" fill-opacity="0.9"/>
<circle cx="556.4" cy="101.15" r="1.5" fill="#8e97d6" fill-opacity="0.9"/>
<circle cx="556.4" cy="99.45" r="1.5" fill="#8e97d6" fill-opacity="0.9"/>
<circle cx="568.53" cy="106.65" r="1.5" fill="#8e97d6" fill-opacity="0.9"/>
<circle cx="568.53" cy="104.03" r="1.5" fill="#8e97d6" fill-opacity="0.9"/>
<circle cx="580.66" cy="104.69" r="1.5" fill="#8e97d6" fill-opacity="0.9"/>
<circle cx="580.66" cy="102.72" r="1.5" fill="#8e97d6" fill-opacity="0.9"/>
<circle cx="592.8" cy="107.57" r="1.5" fill="#8e97d6" fill-opacity="0.9"/>
<circle cx="592.8" cy="101.41" r="1.5" fill="#8e97d6" fill-opacity="0.9"/>
<circle cx="610.99" cy="57.53" r="1.5" fill="#8e97d6" fill-opacity="0.9"/>
<circle cx="610.99" cy="59.49" r="1.5" fill="#8e97d6" fill-opacity="0.9"/>
<circle cx="629.19" cy="45.73" r="1.5" fill="#8e97d6" fill-opacity="0.9"/>
<circle cx="629.19" cy="41.81" r="1.5" fill="#8e97d6" fill-opacity="0.9"/>
<circle cx="665.59" cy="39.19" r="1.5" fill="#8e97d6" fill-opacity="0.9"/>
<circle cx="665.59" cy="35.91" r="1.5" fill="#8e97d6" fill-opacity="0.9"/>
<circle cx="556.4" cy="90.14" r="1.5" fill="#efa07e" fill-opacity="0.9"/>
<circle cx="556.4" cy="96.17" r="1.5" fill="#efa07e" fill-opacity="0.9"/>
<circle cx="556.4" cy="100.1" r="1.5" fill="#efa07e" fill-opacity="0.9"/>
<circle cx="568.53" cy="99.45" r="1.5" fill="#efa07e" fill-opacity="0.9"/>
<circle cx="568.53" cy="102.06" r="1.5" fill="#efa07e" fill-opacity="0.9"/>
<circle cx="580.66" cy="100.1" r="1.5" fill="#efa07e" fill-opacity="0.9"/>
<circle cx="580.66" cy="102.72" r="1.5" fill="#efa07e" fill-opacity="0.9"/>
<circle cx="592.8" cy="96.17" r="1.5" fill="#efa07e" fill-opacity="0.9"/>
<circle cx="592.8" cy="98.79" r="1.5" fill="#efa07e" fill-opacity="0.9"/>
<circle cx="610.99" cy="62.11" r="1.5" fill="#efa07e" fill-opacity="0.9"/>
<circle cx="610.99" cy="63.42" r="1.5" fill="#efa07e" fill-opacity="0.9"/>
<circle cx="629.19" cy="37.22" r="1.5" fill="#efa07e" fill-opacity="0.9"/>
<circle cx="629.19" cy="39.84" r="1.5" fill="#efa07e" fill-opacity="0.9"/>
<circle cx="665.59" cy="31.98" r="1.5" fill="#efa07e" fill-opacity="0.9"/>
<circle cx="665.59" cy="33.95" r="1.5" fill="#efa07e" fill-opacity="0.9"/>
<polyline points="556.4,98.4 568.53,104.82 580.66,103.51 592.8,102.98 610.99,57.92 629.19,42.85 665.59,36.96" fill="none" stroke="#3b47ad" stroke-width="1.6" stroke-linejoin="round" stroke-linecap="round"/>
<polyline points="556.4,96.56 568.53,101.15 580.66,101.15 592.8,96.96 610.99,60.28 629.19,37.74 665.59,32.77" fill="none" stroke="#d2561f" stroke-width="1.6" stroke-linejoin="round" stroke-linecap="round"/>
<rect x="559.2" y="7.4" width="79.1" height="26" fill="none" stroke="#333" stroke-width="0.9" stroke-dasharray="1.2,1.3"/>
<circle cx="563.3" cy="15" r="0.8" fill="#8e97d6"/>
<text x="568.7" y="18.16" font-size="8.9" text-anchor="start" fill="#231f20">Control</text>
<circle cx="563.3" cy="26" r="0.8" fill="#efa07e"/>
<text x="568.7" y="29.16" font-size="8.9" text-anchor="start" fill="#231f20">Oligomycin</text>
<line x1="620.8" y1="15.3" x2="634.1" y2="15.3" stroke="#3b47ad" stroke-width="1.8"/>
<line x1="620.8" y1="26.1" x2="634.1" y2="26.1" stroke="#d2561f" stroke-width="1.8"/>
<line x1="40.5" y1="191.8" x2="330.5" y2="191.8" stroke="#3a3a3a" stroke-width="1.25"/>
<line x1="40.5" y1="191.8" x2="40.5" y2="351" stroke="#3a3a3a" stroke-width="1.25"/>
<line x1="242.5" y1="191.8" x2="242.5" y2="353.8" stroke="#3a3a3a" stroke-width="1.25"/>
<line x1="330.5" y1="191.8" x2="330.5" y2="351" stroke="#3a3a3a" stroke-width="1.25"/>
<line x1="40" y1="350.7" x2="331" y2="350.7" stroke="#3a3a3a" stroke-width="1.25"/>
<line x1="40.5" y1="300.9" x2="330.5" y2="300.9" stroke="#707070" stroke-width="1.5"/>
<line x1="37.2" y1="200.5" x2="40.5" y2="200.5" stroke="#3a3a3a" stroke-width="1.25"/>
<text x="33.3" y="203.66" font-size="8.9" text-anchor="end" fill="#231f20">10.0</text>
<line x1="330.5" y1="200.5" x2="334" y2="200.5" stroke="#3a3a3a" stroke-width="1.25"/>
<text x="337.8" y="203.66" font-size="8.9" text-anchor="start" fill="#231f20">10.0</text>
<line x1="37.2" y1="225.6" x2="40.5" y2="225.6" stroke="#3a3a3a" stroke-width="1.25"/>
<text x="33.3" y="228.76" font-size="8.9" text-anchor="end" fill="#231f20">7.5</text>
<line x1="330.5" y1="225.6" x2="334" y2="225.6" stroke="#3a3a3a" stroke-width="1.25"/>
<text x="337.8" y="228.76" font-size="8.9" text-anchor="start" fill="#231f20">7.5</text>
<line x1="37.2" y1="250.7" x2="40.5" y2="250.7" stroke="#3a3a3a" stroke-width="1.25"/>
<text x="33.3" y="253.86" font-size="8.9" text-anchor="end" fill="#231f20">5.0</text>
<line x1="330.5" y1="250.7" x2="334" y2="250.7" stroke="#3a3a3a" stroke-width="1.25"/>
<text x="337.8" y="253.86" font-size="8.9" text-anchor="start" fill="#231f20">5.0</text>
<line x1="37.2" y1="275.8" x2="40.5" y2="275.8" stroke="#3a3a3a" stroke-width="1.25"/>
<text x="33.3" y="278.96" font-size="8.9" text-anchor="end" fill="#231f20">2.5</text>
<line x1="330.5" y1="275.8" x2="334" y2="275.8" stroke="#3a3a3a" stroke-width="1.25"/>
<text x="337.8" y="278.96" font-size="8.9" text-anchor="start" fill="#231f20">2.5</text>
<line x1="37.2" y1="300.9" x2="40.5" y2="300.9" stroke="#3a3a3a" stroke-width="1.25"/>
<text x="33.3" y="304.06" font-size="8.9" text-anchor="end" fill="#231f20">0.0</text>
<line x1="330.5" y1="300.9" x2="334" y2="300.9" stroke="#3a3a3a" stroke-width="1.25"/>
<text x="337.8" y="304.06" font-size="8.9" text-anchor="start" fill="#231f20">0.0</text>
<line x1="37.2" y1="326" x2="40.5" y2="326" stroke="#3a3a3a" stroke-width="1.25"/>
<text x="33.3" y="329.16" font-size="8.9" text-anchor="end" fill="#231f20">-2.5</text>
<line x1="330.5" y1="326" x2="334" y2="326" stroke="#3a3a3a" stroke-width="1.25"/>
<text x="337.8" y="329.16" font-size="8.9" text-anchor="start" fill="#231f20">-2.5</text>
<line x1="37.2" y1="351.1" x2="40.5" y2="351.1" stroke="#3a3a3a" stroke-width="1.25"/>
<text x="33.3" y="354.26" font-size="8.9" text-anchor="end" fill="#231f20">-5.0</text>
<line x1="330.5" y1="351.1" x2="334" y2="351.1" stroke="#3a3a3a" stroke-width="1.25"/>
<text x="337.8" y="354.26" font-size="8.9" text-anchor="start" fill="#231f20">-5.0</text>
<line x1="40.6" y1="350.7" x2="40.6" y2="353.8" stroke="#3a3a3a" stroke-width="1.25"/>
<text x="40.6" y="365.16" font-size="8.9" text-anchor="middle" fill="#231f20">0.0</text>
<line x1="69.45" y1="350.7" x2="69.45" y2="353.8" stroke="#3a3a3a" stroke-width="1.25"/>
<text x="69.45" y="365.16" font-size="8.9" text-anchor="middle" fill="#231f20">0.5</text>
<line x1="98.3" y1="350.7" x2="98.3" y2="353.8" stroke="#3a3a3a" stroke-width="1.25"/>
<text x="98.3" y="365.16" font-size="8.9" text-anchor="middle" fill="#231f20">1.0</text>
<line x1="127.15" y1="350.7" x2="127.15" y2="353.8" stroke="#3a3a3a" stroke-width="1.25"/>
<text x="127.15" y="365.16" font-size="8.9" text-anchor="middle" fill="#231f20">1.5</text>
<line x1="156" y1="350.7" x2="156" y2="353.8" stroke="#3a3a3a" stroke-width="1.25"/>
<text x="156" y="365.16" font-size="8.9" text-anchor="middle" fill="#231f20">2.0</text>
<line x1="184.85" y1="350.7" x2="184.85" y2="353.8" stroke="#3a3a3a" stroke-width="1.25"/>
<text x="184.85" y="365.16" font-size="8.9" text-anchor="middle" fill="#231f20">2.5</text>
<line x1="213.7" y1="350.7" x2="213.7" y2="353.8" stroke="#3a3a3a" stroke-width="1.25"/>
<text x="213.7" y="365.16" font-size="8.9" text-anchor="middle" fill="#231f20">3.0</text>
<line x1="264.6" y1="350.7" x2="264.6" y2="353.8" stroke="#3a3a3a" stroke-width="1.25"/>
<line x1="308.4" y1="350.7" x2="308.4" y2="353.8" stroke="#3a3a3a" stroke-width="1.25"/>
<text x="141.6" y="378.96" font-size="8.9" text-anchor="middle" fill="#231f20">Time after drug exposure (h)</text>
<text x="264.4" y="364.56" font-size="8.9" text-anchor="middle" fill="#231f20">Control</text>
<text x="308.4" y="364.56" font-size="8.9" text-anchor="middle" fill="#231f20">Oligomycin</text>
<text x="7.47" y="271.4" font-size="8.65" text-anchor="middle" fill="#231f20" transform="rotate(-90 7.47 271.4)">Growth rate (pg/h)</text>
<text x="369.36" y="270.4" font-size="8.9" text-anchor="middle" fill="#231f20" transform="rotate(-90 369.36 270.4)">Growth rate <tspan font-style="italic">t</tspan> = 1 h (pg/h)</text>
<text x="260.5" y="212" font-size="8.9" text-anchor="start" fill="#231f20"><tspan font-style="italic">P</tspan> = 5.41 × 10<tspan font-size="6" dy="-3.3">−16</tspan></text>
<text x="253.9" y="349.3" font-size="8.9" text-anchor="start" fill="#231f20"><tspan font-style="italic">n</tspan> = 63</text>
<text x="294.7" y="349.3" font-size="8.9" text-anchor="start" fill="#231f20"><tspan font-style="italic">n</tspan> = 102</text>
<rect x="161.2" y="194" width="79.1" height="26" fill="none" stroke="#333" stroke-width="0.9" stroke-dasharray="1.2,1.3"/>
<circle cx="165.3" cy="201.6" r="0.8" fill="#8e97d6"/>
<text x="170.7" y="204.76" font-size="8.9" text-anchor="start" fill="#231f20">Control</text>
<circle cx="165.3" cy="212.6" r="0.8" fill="#efa07e"/>
<text x="170.7" y="215.76" font-size="8.9" text-anchor="start" fill="#231f20">Oligomycin</text>
<line x1="222.8" y1="201.9" x2="236.1" y2="201.9" stroke="#3b47ad" stroke-width="1.8"/>
<line x1="222.8" y1="212.7" x2="236.1" y2="212.7" stroke="#d2561f" stroke-width="1.8"/>
<rect x="53.25" y="215.85" width="2.1" height="2.1" fill="#eb9e80" stroke="none" stroke-width="0"/>
<rect x="55.35" y="218.75" width="2.1" height="2.1" fill="#eb9e80" stroke="none" stroke-width="0"/>
<rect x="47.35" y="232.65" width="2.1" height="2.1" fill="#eb9e80" stroke="none" stroke-width="0"/>
<rect x="75.75" y="253.05" width="2.1" height="2.1" fill="#eb9e80" stroke="none" stroke-width="0"/>
<rect x="88.75" y="251.55" width="2.1" height="2.1" fill="#eb9e80" stroke="none" stroke-width="0"/>
<rect x="47.35" y="257.25" width="2.1" height="2.1" fill="#eb9e80" stroke="none" stroke-width="0"/>
<rect x="135.15" y="219.45" width="2.1" height="2.1" fill="#eb9e80" stroke="none" stroke-width="0"/>
<rect x="137.65" y="246.75" width="2.1" height="2.1" fill="#eb9e80" stroke="none" stroke-width="0"/>
<rect x="135.65" y="220.05" width="2.1" height="2.1" fill="#eb9e80" stroke="none" stroke-width="0"/>
<rect x="138.15" y="246.65" width="2.1" height="2.1" fill="#eb9e80" stroke="none" stroke-width="0"/>
<rect x="160.15" y="234.05" width="2.1" height="2.1" fill="#eb9e80" stroke="none" stroke-width="0"/>
<rect x="161.85" y="251.25" width="2.1" height="2.1" fill="#eb9e80" stroke="none" stroke-width="0"/>
<rect x="153.85" y="254.45" width="2.1" height="2.1" fill="#eb9e80" stroke="none" stroke-width="0"/>
<rect x="197.95" y="246.65" width="2.1" height="2.1" fill="#eb9e80" stroke="none" stroke-width="0"/>
<rect x="197.85" y="246.75" width="2.1" height="2.1" fill="#eb9e80" stroke="none" stroke-width="0"/>
<rect x="47.45" y="256.85" width="2.1" height="2.1" fill="#eb9e80" stroke="none" stroke-width="0"/>
<rect x="63.85" y="269.45" width="2.1" height="2.1" fill="#eb9e80" stroke="none" stroke-width="0"/>
<rect x="76.35" y="269.95" width="2.1" height="2.1" fill="#eb9e80" stroke="none" stroke-width="0"/>
<rect x="77.65" y="270.75" width="2.1" height="2.1" fill="#eb9e80" stroke="none" stroke-width="0"/>
<rect x="50.75" y="274.65" width="2.1" height="2.1" fill="#eb9e80" stroke="none" stroke-width="0"/>
<rect x="54.65" y="274.65" width="2.1" height="2.1" fill="#eb9e80" stroke="none" stroke-width="0"/>
<rect x="58.35" y="274.95" width="2.1" height="2.1" fill="#eb9e80" stroke="none" stroke-width="0"/>
<rect x="71.15" y="274.25" width="2.1" height="2.1" fill="#eb9e80" stroke="none" stroke-width="0"/>
<rect x="69.35" y="277.55" width="2.1" height="2.1" fill="#eb9e80" stroke="none" stroke-width="0"/>
<rect x="61.95" y="278.85" width="2.1" height="2.1" fill="#eb9e80" stroke="none" stroke-width="0"/>
<rect x="65.85" y="279.55" width="2.1" height="2.1" fill="#eb9e80" stroke="none" stroke-width="0"/>
<rect x="70.45" y="278.85" width="2.1" height="2.1" fill="#eb9e80" stroke="none" stroke-width="0"/>
<rect x="73.35" y="279.85" width="2.1" height="2.1" fill="#eb9e80" stroke="none" stroke-width="0"/>
<rect x="72.85" y="281.75" width="2.1" height="2.1" fill="#eb9e80" stroke="none" stroke-width="0"/>
<rect x="51.45" y="282.15" width="2.1" height="2.1" fill="#eb9e80" stroke="none" stroke-width="0"/>
<rect x="53.65" y="281.75" width="2.1" height="2.1" fill="#eb9e80" stroke="none" stroke-width="0"/>
<rect x="65.15" y="286.45" width="2.1" height="2.1" fill="#eb9e80" stroke="none" stroke-width="0"/>
<rect x="52.75" y="288.35" width="2.1" height="2.1" fill="#eb9e80" stroke="none" stroke-width="0"/>
<rect x="58.65" y="288.75" width="2.1" height="2.1" fill="#eb9e80" stroke="none" stroke-width="0"/>
<rect x="48.15" y="292.05" width="2.1" height="2.1" fill="#eb9e80" stroke="none" stroke-width="0"/>
<rect x="51.45" y="292.25" width="2.1" height="2.1" fill="#eb9e80" stroke="none" stroke-width="0"/>
<rect x="82.25" y="283.85" width="2.1" height="2.1" fill="#eb9e80" stroke="none" stroke-width="0"/>
<rect x="84.85" y="282.15" width="2.1" height="2.1" fill="#eb9e80" stroke="none" stroke-width="0"/>
<rect x="84.85" y="284.15" width="2.1" height="2.1" fill="#eb9e80" stroke="none" stroke-width="0"/>
<rect x="90.15" y="279.55" width="2.1" height="2.1" fill="#eb9e80" stroke="none" stroke-width="0"/>
<rect x="92.05" y="276.95" width="2.1" height="2.1" fill="#eb9e80" stroke="none" stroke-width="0"/>
<rect x="92.75" y="280.85" width="2.1" height="2.1" fill="#eb9e80" stroke="none" stroke-width="0"/>
<rect x="80.25" y="293.05" width="2.1" height="2.1" fill="#eb9e80" stroke="none" stroke-width="0"/>
<rect x="81.65" y="293.05" width="2.1" height="2.1" fill="#eb9e80" stroke="none" stroke-width="0"/>
<rect x="82.25" y="296.65" width="2.1" height="2.1" fill="#eb9e80" stroke="none" stroke-width="0"/>
<rect x="86.85" y="293.05" width="2.1" height="2.1" fill="#eb9e80" stroke="none" stroke-width="0"/>
<rect x="88.15" y="296.65" width="2.1" height="2.1" fill="#eb9e80" stroke="none" stroke-width="0"/>
<rect x="62.55" y="298.85" width="2.1" height="2.1" fill="#eb9e80" stroke="none" stroke-width="0"/>
<rect x="92.05" y="297.25" width="2.1" height="2.1" fill="#eb9e80" stroke="none" stroke-width="0"/>
<rect x="96.35" y="277.85" width="2.1" height="2.1" fill="#eb9e80" stroke="none" stroke-width="0"/>
<rect x="124.75" y="274.25" width="2.1" height="2.1" fill="#eb9e80" stroke="none" stroke-width="0"/>
<rect x="125.45" y="281.75" width="2.1" height="2.1" fill="#eb9e80" stroke="none" stroke-width="0"/>
<rect x="130.05" y="281.55" width="2.1" height="2.1" fill="#eb9e80" stroke="none" stroke-width="0"/>
<rect x="139.85" y="282.85" width="2.1" height="2.1" fill="#eb9e80" stroke="none" stroke-width="0"/>
<rect x="144.45" y="282.15" width="2.1" height="2.1" fill="#eb9e80" stroke="none" stroke-width="0"/>
<rect x="103.75" y="284.35" width="2.1" height="2.1" fill="#eb9e80" stroke="none" stroke-width="0"/>
<rect x="98.95" y="286.15" width="2.1" height="2.1" fill="#eb9e80" stroke="none" stroke-width="0"/>
<rect x="99.45" y="288.75" width="2.1" height="2.1" fill="#eb9e80" stroke="none" stroke-width="0"/>
<rect x="119.55" y="288.05" width="2.1" height="2.1" fill="#eb9e80" stroke="none" stroke-width="0"/>
<rect x="119.55" y="290.45" width="2.1" height="2.1" fill="#eb9e80" stroke="none" stroke-width="0"/>
<rect x="128.05" y="290.95" width="2.1" height="2.1" fill="#eb9e80" stroke="none" stroke-width="0"/>
<rect x="132.05" y="290.65" width="2.1" height="2.1" fill="#eb9e80" stroke="none" stroke-width="0"/>
<rect x="133.95" y="292.05" width="2.1" height="2.1" fill="#eb9e80" stroke="none" stroke-width="0"/>
<rect x="137.25" y="289.65" width="2.1" height="2.1" fill="#eb9e80" stroke="none" stroke-width="0"/>
<rect x="139.25" y="289.65" width="2.1" height="2.1" fill="#eb9e80" stroke="none" stroke-width="0"/>
<rect x="139.25" y="293.05" width="2.1" height="2.1" fill="#eb9e80" stroke="none" stroke-width="0"/>
<rect x="145.15" y="293.05" width="2.1" height="2.1" fill="#eb9e80" stroke="none" stroke-width="0"/>
<rect x="147.05" y="287.85" width="2.1" height="2.1" fill="#eb9e80" stroke="none" stroke-width="0"/>
<rect x="123.45" y="293.05" width="2.1" height="2.1" fill="#eb9e80" stroke="none" stroke-width="0"/>
<rect x="123.45" y="294.95" width="2.1" height="2.1" fill="#eb9e80" stroke="none" stroke-width="0"/>
<rect x="131.35" y="294.95" width="2.1" height="2.1" fill="#eb9e80" stroke="none" stroke-width="0"/>
<rect x="100.55" y="293.95" width="2.1" height="2.1" fill="#eb9e80" stroke="none" stroke-width="0"/>
<rect x="111.65" y="297.25" width="2.1" height="2.1" fill="#eb9e80" stroke="none" stroke-width="0"/>
<rect x="118.85" y="295.95" width="2.1" height="2.1" fill="#eb9e80" stroke="none" stroke-width="0"/>
<rect x="114.95" y="300.15" width="2.1" height="2.1" fill="#eb9e80" stroke="none" stroke-width="0"/>
<rect x="121.55" y="300.55" width="2.1" height="2.1" fill="#eb9e80" stroke="none" stroke-width="0"/>
<rect x="132.65" y="299.25" width="2.1" height="2.1" fill="#eb9e80" stroke="none" stroke-width="0"/>
<rect x="135.95" y="300.55" width="2.1" height="2.1" fill="#eb9e80" stroke="none" stroke-width="0"/>
<rect x="141.15" y="299.85" width="2.1" height="2.1" fill="#eb9e80" stroke="none" stroke-width="0"/>
<rect x="107.05" y="302.75" width="2.1" height="2.1" fill="#eb9e80" stroke="none" stroke-width="0"/>
<rect x="126.15" y="303.15" width="2.1" height="2.1" fill="#eb9e80" stroke="none" stroke-width="0"/>
<rect x="153.95" y="254.65" width="2.1" height="2.1" fill="#eb9e80" stroke="none" stroke-width="0"/>
<rect x="167.05" y="270.75" width="2.1" height="2.1" fill="#eb9e80" stroke="none" stroke-width="0"/>
<rect x="182.85" y="270.75" width="2.1" height="2.1" fill="#eb9e80" stroke="none" stroke-width="0"/>
<rect x="187.25" y="274.95" width="2.1" height="2.1" fill="#eb9e80" stroke="none" stroke-width="0"/>
<rect x="194.85" y="275.95" width="2.1" height="2.1" fill="#eb9e80" stroke="none" stroke-width="0"/>
<rect x="188.55" y="279.55" width="2.1" height="2.1" fill="#eb9e80" stroke="none" stroke-width="0"/>
<rect x="156.85" y="280.85" width="2.1" height="2.1" fill="#eb9e80" stroke="none" stroke-width="0"/>
<rect x="156.85" y="283.85" width="2.1" height="2.1" fill="#eb9e80" stroke="none" stroke-width="0"/>
<rect x="174.95" y="280.85" width="2.1" height="2.1" fill="#eb9e80" stroke="none" stroke-width="0"/>
<rect x="179.35" y="281.75" width="2.1" height="2.1" fill="#eb9e80" stroke="none" stroke-width="0"/>
<rect x="174.95" y="286.15" width="2.1" height="2.1" fill="#eb9e80" stroke="none" stroke-width="0"/>
<rect x="199.45" y="287.85" width="2.1" height="2.1" fill="#eb9e80" stroke="none" stroke-width="0"/>
<rect x="150.25" y="289.15" width="2.1" height="2.1" fill="#eb9e80" stroke="none" stroke-width="0"/>
<rect x="161.05" y="289.65" width="2.1" height="2.1" fill="#eb9e80" stroke="none" stroke-width="0"/>
<rect x="178.85" y="293.05" width="2.1" height="2.1" fill="#eb9e80" stroke="none" stroke-width="0"/>
<rect x="186.35" y="293.95" width="2.1" height="2.1" fill="#eb9e80" stroke="none" stroke-width="0"/>
<rect x="152.85" y="297.95" width="2.1" height="2.1" fill="#eb9e80" stroke="none" stroke-width="0"/>
<rect x="155.75" y="295.95" width="2.1" height="2.1" fill="#eb9e80" stroke="none" stroke-width="0"/>
<rect x="161.05" y="296.25" width="2.1" height="2.1" fill="#eb9e80" stroke="none" stroke-width="0"/>
<rect x="166.05" y="298.35" width="2.1" height="2.1" fill="#eb9e80" stroke="none" stroke-width="0"/>
<rect x="178.05" y="296.95" width="2.1" height="2.1" fill="#eb9e80" stroke="none" stroke-width="0"/>
<rect x="176.55" y="299.25" width="2.1" height="2.1" fill="#eb9e80" stroke="none" stroke-width="0"/>
<rect x="198.85" y="295.25" width="2.1" height="2.1" fill="#eb9e80" stroke="none" stroke-width="0"/>
<rect x="198.15" y="298.85" width="2.1" height="2.1" fill="#eb9e80" stroke="none" stroke-width="0"/>
<rect x="186.35" y="300.55" width="2.1" height="2.1" fill="#eb9e80" stroke="none" stroke-width="0"/>
<rect x="174.55" y="301.45" width="2.1" height="2.1" fill="#eb9e80" stroke="none" stroke-width="0"/>
<rect x="158.15" y="303.15" width="2.1" height="2.1" fill="#eb9e80" stroke="none" stroke-width="0"/>
<rect x="169.95" y="303.15" width="2.1" height="2.1" fill="#eb9e80" stroke="none" stroke-width="0"/>
<rect x="149.65" y="303.15" width="2.1" height="2.1" fill="#eb9e80" stroke="none" stroke-width="0"/>
<rect x="62.15" y="302.35" width="2.1" height="2.1" fill="#eb9e80" stroke="none" stroke-width="0"/>
<rect x="57.35" y="306.45" width="2.1" height="2.1" fill="#eb9e80" stroke="none" stroke-width="0"/>
<rect x="65.15" y="304.65" width="2.1" height="2.1" fill="#eb9e80" stroke="none" stroke-width="0"/>
<rect x="67.85" y="307.15" width="2.1" height="2.1" fill="#eb9e80" stroke="none" stroke-width="0"/>
<rect x="70.35" y="303.75" width="2.1" height="2.1" fill="#eb9e80" stroke="none" stroke-width="0"/>
<rect x="74.15" y="304.15" width="2.1" height="2.1" fill="#eb9e80" stroke="none" stroke-width="0"/>
<rect x="71.65" y="312.35" width="2.1" height="2.1" fill="#eb9e80" stroke="none" stroke-width="0"/>
<rect x="70.65" y="316.05" width="2.1" height="2.1" fill="#eb9e80" stroke="none" stroke-width="0"/>
<rect x="80.95" y="314.65" width="2.1" height="2.1" fill="#eb9e80" stroke="none" stroke-width="0"/>
<rect x="86.05" y="316.05" width="2.1" height="2.1" fill="#eb9e80" stroke="none" stroke-width="0"/>
<rect x="94.85" y="303.75" width="2.1" height="2.1" fill="#eb9e80" stroke="none" stroke-width="0"/>
<rect x="95.95" y="307.85" width="2.1" height="2.1" fill="#eb9e80" stroke="none" stroke-width="0"/>
<rect x="95.95" y="309.55" width="2.1" height="2.1" fill="#eb9e80" stroke="none" stroke-width="0"/>
<rect x="106.85" y="303.05" width="2.1" height="2.1" fill="#eb9e80" stroke="none" stroke-width="0"/>
<rect x="56.05" y="322.85" width="2.1" height="2.1" fill="#eb9e80" stroke="none" stroke-width="0"/>
<rect x="108.25" y="334.65" width="2.1" height="2.1" fill="#eb9e80" stroke="none" stroke-width="0"/>
<rect x="115.05" y="300.35" width="2.1" height="2.1" fill="#eb9e80" stroke="none" stroke-width="0"/>
<rect x="121.55" y="300.95" width="2.1" height="2.1" fill="#eb9e80" stroke="none" stroke-width="0"/>
<rect x="126.05" y="303.35" width="2.1" height="2.1" fill="#eb9e80" stroke="none" stroke-width="0"/>
<rect x="134.55" y="300.95" width="2.1" height="2.1" fill="#eb9e80" stroke="none" stroke-width="0"/>
<rect x="137.55" y="300.55" width="2.1" height="2.1" fill="#eb9e80" stroke="none" stroke-width="0"/>
<rect x="132.85" y="306.85" width="2.1" height="2.1" fill="#eb9e80" stroke="none" stroke-width="0"/>
<rect x="138.95" y="308.75" width="2.1" height="2.1" fill="#eb9e80" stroke="none" stroke-width="0"/>
<rect x="141.05" y="307.85" width="2.1" height="2.1" fill="#eb9e80" stroke="none" stroke-width="0"/>
<rect x="148.55" y="302.75" width="2.1" height="2.1" fill="#eb9e80" stroke="none" stroke-width="0"/>
<rect x="149.85" y="305.05" width="2.1" height="2.1" fill="#eb9e80" stroke="none" stroke-width="0"/>
<rect x="148.55" y="306.05" width="2.1" height="2.1" fill="#eb9e80" stroke="none" stroke-width="0"/>
<rect x="147.15" y="307.85" width="2.1" height="2.1" fill="#eb9e80" stroke="none" stroke-width="0"/>
<rect x="153.25" y="309.85" width="2.1" height="2.1" fill="#eb9e80" stroke="none" stroke-width="0"/>
<rect x="148.75" y="311.95" width="2.1" height="2.1" fill="#eb9e80" stroke="none" stroke-width="0"/>
<rect x="147.85" y="313.65" width="2.1" height="2.1" fill="#eb9e80" stroke="none" stroke-width="0"/>
<rect x="158.35" y="303.35" width="2.1" height="2.1" fill="#eb9e80" stroke="none" stroke-width="0"/>
<rect x="170.35" y="303.75" width="2.1" height="2.1" fill="#eb9e80" stroke="none" stroke-width="0"/>
<rect x="174.15" y="301.95" width="2.1" height="2.1" fill="#eb9e80" stroke="none" stroke-width="0"/>
<rect x="170.05" y="306.85" width="2.1" height="2.1" fill="#eb9e80" stroke="none" stroke-width="0"/>
<rect x="167.85" y="314.25" width="2.1" height="2.1" fill="#eb9e80" stroke="none" stroke-width="0"/>
<rect x="122.35" y="311.95" width="2.1" height="2.1" fill="#eb9e80" stroke="none" stroke-width="0"/>
<rect x="156.05" y="318.05" width="2.1" height="2.1" fill="#eb9e80" stroke="none" stroke-width="0"/>
<rect x="121.25" y="322.85" width="2.1" height="2.1" fill="#eb9e80" stroke="none" stroke-width="0"/>
<rect x="130.75" y="324.15" width="2.1" height="2.1" fill="#eb9e80" stroke="none" stroke-width="0"/>
<rect x="171.75" y="324.85" width="2.1" height="2.1" fill="#eb9e80" stroke="none" stroke-width="0"/>
<rect x="118.45" y="333.75" width="2.1" height="2.1" fill="#eb9e80" stroke="none" stroke-width="0"/>
<rect x="119.85" y="338.15" width="2.1" height="2.1" fill="#eb9e80" stroke="none" stroke-width="0"/>
<rect x="154.65" y="339.15" width="2.1" height="2.1" fill="#eb9e80" stroke="none" stroke-width="0"/>
<rect x="143.35" y="343.25" width="2.1" height="2.1" fill="#eb9e80" stroke="none" stroke-width="0"/>
<rect x="185.95" y="300.65" width="2.1" height="2.1" fill="#eb9e80" stroke="none" stroke-width="0"/>
<rect x="197.85" y="298.75" width="2.1" height="2.1" fill="#eb9e80" stroke="none" stroke-width="0"/>
<rect x="176.15" y="298.75" width="2.1" height="2.1" fill="#eb9e80" stroke="none" stroke-width="0"/>
<rect x="202.05" y="304.45" width="2.1" height="2.1" fill="#eb9e80" stroke="none" stroke-width="0"/>
<rect x="200.15" y="307.45" width="2.1" height="2.1" fill="#eb9e80" stroke="none" stroke-width="0"/>
<rect x="201.65" y="312.15" width="2.1" height="2.1" fill="#eb9e80" stroke="none" stroke-width="0"/>
<rect x="192.95" y="314.15" width="2.1" height="2.1" fill="#eb9e80" stroke="none" stroke-width="0"/>
<rect x="199.05" y="315.65" width="2.1" height="2.1" fill="#eb9e80" stroke="none" stroke-width="0"/>
<rect x="202.05" y="328.35" width="2.1" height="2.1" fill="#eb9e80" stroke="none" stroke-width="0"/>
<rect x="200.85" y="332.05" width="2.1" height="2.1" fill="#eb9e80" stroke="none" stroke-width="0"/>
<rect x="178.15" y="296.95" width="2.1" height="2.1" fill="#eb9e80" stroke="none" stroke-width="0"/>
<rect x="84.55" y="196.75" width="2.1" height="2.1" fill="#8790d2" stroke="none" stroke-width="0"/>
<rect x="47.35" y="230.95" width="2.1" height="2.1" fill="#8790d2" stroke="none" stroke-width="0"/>
<rect x="49.45" y="233.05" width="2.1" height="2.1" fill="#8790d2" stroke="none" stroke-width="0"/>
<rect x="54.05" y="234.15" width="2.1" height="2.1" fill="#8790d2" stroke="none" stroke-width="0"/>
<rect x="54.05" y="237.95" width="2.1" height="2.1" fill="#8790d2" stroke="none" stroke-width="0"/>
<rect x="85.55" y="244.65" width="2.1" height="2.1" fill="#8790d2" stroke="none" stroke-width="0"/>
<rect x="86.25" y="246.75" width="2.1" height="2.1" fill="#8790d2" stroke="none" stroke-width="0"/>
<rect x="96.05" y="233.05" width="2.1" height="2.1" fill="#8790d2" stroke="none" stroke-width="0"/>
<rect x="98.15" y="232.05" width="2.1" height="2.1" fill="#8790d2" stroke="none" stroke-width="0"/>
<rect x="103.45" y="230.95" width="2.1" height="2.1" fill="#8790d2" stroke="none" stroke-width="0"/>
<rect x="106.55" y="239.75" width="2.1" height="2.1" fill="#8790d2" stroke="none" stroke-width="0"/>
<rect x="126.75" y="226.35" width="2.1" height="2.1" fill="#8790d2" stroke="none" stroke-width="0"/>
<rect x="132.85" y="238.35" width="2.1" height="2.1" fill="#8790d2" stroke="none" stroke-width="0"/>
<rect x="136.65" y="192.15" width="2.1" height="2.1" fill="#8790d2" stroke="none" stroke-width="0"/>
<rect x="70.05" y="250.55" width="2.1" height="2.1" fill="#8790d2" stroke="none" stroke-width="0"/>
<rect x="70.85" y="254.05" width="2.1" height="2.1" fill="#8790d2" stroke="none" stroke-width="0"/>
<rect x="51.15" y="251.55" width="2.1" height="2.1" fill="#8790d2" stroke="none" stroke-width="0"/>
<rect x="44.85" y="258.25" width="2.1" height="2.1" fill="#8790d2" stroke="none" stroke-width="0"/>
<rect x="54.05" y="256.55" width="2.1" height="2.1" fill="#8790d2" stroke="none" stroke-width="0"/>
<rect x="83.65" y="253.05" width="2.1" height="2.1" fill="#8790d2" stroke="none" stroke-width="0"/>
<rect x="83.65" y="255.15" width="2.1" height="2.1" fill="#8790d2" stroke="none" stroke-width="0"/>
<rect x="93.55" y="253.65" width="2.1" height="2.1" fill="#8790d2" stroke="none" stroke-width="0"/>
<rect x="97.75" y="255.15" width="2.1" height="2.1" fill="#8790d2" stroke="none" stroke-width="0"/>
<rect x="98.85" y="251.55" width="2.1" height="2.1" fill="#8790d2" stroke="none" stroke-width="0"/>
<rect x="102.65" y="252.65" width="2.1" height="2.1" fill="#8790d2" stroke="none" stroke-width="0"/>
<rect x="112.05" y="249.45" width="2.1" height="2.1" fill="#8790d2" stroke="none" stroke-width="0"/>
<rect x="114.15" y="254.45" width="2.1" height="2.1" fill="#8790d2" stroke="none" stroke-width="0"/>
<rect x="116.65" y="254.05" width="2.1" height="2.1" fill="#8790d2" stroke="none" stroke-width="0"/>
<rect x="118.35" y="259.95" width="2.1" height="2.1" fill="#8790d2" stroke="none" stroke-width="0"/>
<rect x="124.65" y="247.75" width="2.1" height="2.1" fill="#8790d2" stroke="none" stroke-width="0"/>
<rect x="125.55" y="243.15" width="2.1" height="2.1" fill="#8790d2" stroke="none" stroke-width="0"/>
<rect x="134.55" y="244.65" width="2.1" height="2.1" fill="#8790d2" stroke="none" stroke-width="0"/>
<rect x="136.65" y="247.75" width="2.1" height="2.1" fill="#8790d2" stroke="none" stroke-width="0"/>
<rect x="136.45" y="192.55" width="2.1" height="2.1" fill="#8790d2" stroke="none" stroke-width="0"/>
<rect x="139.15" y="229.45" width="2.1" height="2.1" fill="#8790d2" stroke="none" stroke-width="0"/>
<rect x="134.95" y="244.55" width="2.1" height="2.1" fill="#8790d2" stroke="none" stroke-width="0"/>
<rect x="137.05" y="247.75" width="2.1" height="2.1" fill="#8790d2" stroke="none" stroke-width="0"/>
<rect x="139.15" y="254.05" width="2.1" height="2.1" fill="#8790d2" stroke="none" stroke-width="0"/>
<rect x="163.75" y="244.55" width="2.1" height="2.1" fill="#8790d2" stroke="none" stroke-width="0"/>
<rect x="201.55" y="242.45" width="2.1" height="2.1" fill="#8790d2" stroke="none" stroke-width="0"/>
<rect x="212.05" y="238.65" width="2.1" height="2.1" fill="#8790d2" stroke="none" stroke-width="0"/>
<rect x="214.75" y="238.25" width="2.1" height="2.1" fill="#8790d2" stroke="none" stroke-width="0"/>
<rect x="211.15" y="257.15" width="2.1" height="2.1" fill="#8790d2" stroke="none" stroke-width="0"/>
<rect x="215.15" y="254.45" width="2.1" height="2.1" fill="#8790d2" stroke="none" stroke-width="0"/>
<rect x="215.15" y="256.55" width="2.1" height="2.1" fill="#8790d2" stroke="none" stroke-width="0"/>
<rect x="200.75" y="259.95" width="2.1" height="2.1" fill="#8790d2" stroke="none" stroke-width="0"/>
<rect x="44.85" y="258.55" width="2.1" height="2.1" fill="#8790d2" stroke="none" stroke-width="0"/>
<rect x="54.45" y="256.85" width="2.1" height="2.1" fill="#8790d2" stroke="none" stroke-width="0"/>
<rect x="51.85" y="269.05" width="2.1" height="2.1" fill="#8790d2" stroke="none" stroke-width="0"/>
<rect x="75.05" y="269.45" width="2.1" height="2.1" fill="#8790d2" stroke="none" stroke-width="0"/>
<rect x="73.35" y="273.65" width="2.1" height="2.1" fill="#8790d2" stroke="none" stroke-width="0"/>
<rect x="78.35" y="273.95" width="2.1" height="2.1" fill="#8790d2" stroke="none" stroke-width="0"/>
<rect x="77.05" y="276.55" width="2.1" height="2.1" fill="#8790d2" stroke="none" stroke-width="0"/>
<rect x="79.85" y="275.65" width="2.1" height="2.1" fill="#8790d2" stroke="none" stroke-width="0"/>
<rect x="80.65" y="266.45" width="2.1" height="2.1" fill="#8790d2" stroke="none" stroke-width="0"/>
<rect x="72.45" y="286.15" width="2.1" height="2.1" fill="#8790d2" stroke="none" stroke-width="0"/>
<rect x="80.95" y="287.45" width="2.1" height="2.1" fill="#8790d2" stroke="none" stroke-width="0"/>
<rect x="44.85" y="296.25" width="2.1" height="2.1" fill="#8790d2" stroke="none" stroke-width="0"/>
<rect x="70.45" y="254.65" width="2.1" height="2.1" fill="#8790d2" stroke="none" stroke-width="0"/>
<rect x="84.25" y="254.65" width="2.1" height="2.1" fill="#8790d2" stroke="none" stroke-width="0"/>
<rect x="97.85" y="255.25" width="2.1" height="2.1" fill="#8790d2" stroke="none" stroke-width="0"/>
<rect x="114.25" y="254.65" width="2.1" height="2.1" fill="#8790d2" stroke="none" stroke-width="0"/>
<rect x="116.95" y="253.95" width="2.1" height="2.1" fill="#8790d2" stroke="none" stroke-width="0"/>
<rect x="118.25" y="259.85" width="2.1" height="2.1" fill="#8790d2" stroke="none" stroke-width="0"/>
<rect x="139.25" y="253.95" width="2.1" height="2.1" fill="#8790d2" stroke="none" stroke-width="0"/>
<rect x="108.35" y="266.45" width="2.1" height="2.1" fill="#8790d2" stroke="none" stroke-width="0"/>
<rect x="114.95" y="266.85" width="2.1" height="2.1" fill="#8790d2" stroke="none" stroke-width="0"/>
<rect x="124.75" y="264.75" width="2.1" height="2.1" fill="#8790d2" stroke="none" stroke-width="0"/>
<rect x="132.05" y="270.75" width="2.1" height="2.1" fill="#8790d2" stroke="none" stroke-width="0"/>
<rect x="104.45" y="274.65" width="2.1" height="2.1" fill="#8790d2" stroke="none" stroke-width="0"/>
<rect x="116.95" y="276.95" width="2.1" height="2.1" fill="#8790d2" stroke="none" stroke-width="0"/>
<rect x="118.25" y="276.95" width="2.1" height="2.1" fill="#8790d2" stroke="none" stroke-width="0"/>
<rect x="120.85" y="276.55" width="2.1" height="2.1" fill="#8790d2" stroke="none" stroke-width="0"/>
<rect x="122.15" y="274.25" width="2.1" height="2.1" fill="#8790d2" stroke="none" stroke-width="0"/>
<rect x="127.45" y="273.95" width="2.1" height="2.1" fill="#8790d2" stroke="none" stroke-width="0"/>
<rect x="138.55" y="276.55" width="2.1" height="2.1" fill="#8790d2" stroke="none" stroke-width="0"/>
<rect x="103.75" y="282.85" width="2.1" height="2.1" fill="#8790d2" stroke="none" stroke-width="0"/>
<rect x="139.25" y="282.85" width="2.1" height="2.1" fill="#8790d2" stroke="none" stroke-width="0"/>
<rect x="144.45" y="280.85" width="2.1" height="2.1" fill="#8790d2" stroke="none" stroke-width="0"/>
<rect x="144.85" y="284.15" width="2.1" height="2.1" fill="#8790d2" stroke="none" stroke-width="0"/>
<rect x="126.15" y="289.65" width="2.1" height="2.1" fill="#8790d2" stroke="none" stroke-width="0"/>
<rect x="93.95" y="298.55" width="2.1" height="2.1" fill="#8790d2" stroke="none" stroke-width="0"/>
<rect x="200.15" y="259.85" width="2.1" height="2.1" fill="#8790d2" stroke="none" stroke-width="0"/>
<rect x="198.15" y="264.45" width="2.1" height="2.1" fill="#8790d2" stroke="none" stroke-width="0"/>
<rect x="158.35" y="267.75" width="2.1" height="2.1" fill="#8790d2" stroke="none" stroke-width="0"/>
<rect x="173.25" y="272.55" width="2.1" height="2.1" fill="#8790d2" stroke="none" stroke-width="0"/>
<rect x="198.55" y="272.95" width="2.1" height="2.1" fill="#8790d2" stroke="none" stroke-width="0"/>
<rect x="191.65" y="290.05" width="2.1" height="2.1" fill="#8790d2" stroke="none" stroke-width="0"/>
<rect x="176.55" y="291.75" width="2.1" height="2.1" fill="#8790d2" stroke="none" stroke-width="0"/>
<rect x="201.45" y="242.85" width="2.1" height="2.1" fill="#8790d2" stroke="none" stroke-width="0"/>
<rect x="211.95" y="238.65" width="2.1" height="2.1" fill="#8790d2" stroke="none" stroke-width="0"/>
<rect x="214.95" y="238.35" width="2.1" height="2.1" fill="#8790d2" stroke="none" stroke-width="0"/>
<rect x="214.95" y="254.35" width="2.1" height="2.1" fill="#8790d2" stroke="none" stroke-width="0"/>
<rect x="215.15" y="256.75" width="2.1" height="2.1" fill="#8790d2" stroke="none" stroke-width="0"/>
<rect x="210.95" y="257.25" width="2.1" height="2.1" fill="#8790d2" stroke="none" stroke-width="0"/>
<rect x="200.45" y="259.95" width="2.1" height="2.1" fill="#8790d2" stroke="none" stroke-width="0"/>
<rect x="198.15" y="264.25" width="2.1" height="2.1" fill="#8790d2" stroke="none" stroke-width="0"/>
<rect x="205.35" y="267.75" width="2.1" height="2.1" fill="#8790d2" stroke="none" stroke-width="0"/>
<rect x="205.25" y="267.95" width="2.1" height="2.1" fill="#8790d2" stroke="none" stroke-width="0"/>
<rect x="216.55" y="271.05" width="2.1" height="2.1" fill="#8790d2" stroke="none" stroke-width="0"/>
<rect x="218.05" y="276.05" width="2.1" height="2.1" fill="#8790d2" stroke="none" stroke-width="0"/>
<rect x="218.35" y="281.95" width="2.1" height="2.1" fill="#8790d2" stroke="none" stroke-width="0"/>
<rect x="46.85" y="312.85" width="2.1" height="2.1" fill="#8790d2" stroke="none" stroke-width="0"/>
<rect x="75.55" y="303.95" width="2.1" height="2.1" fill="#8790d2" stroke="none" stroke-width="0"/>
<rect x="96.25" y="319.45" width="2.1" height="2.1" fill="#8790d2" stroke="none" stroke-width="0"/>
<rect x="128.75" y="310.55" width="2.1" height="2.1" fill="#8790d2" stroke="none" stroke-width="0"/>
<rect x="130.05" y="341.25" width="2.1" height="2.1" fill="#8790d2" stroke="none" stroke-width="0"/>
<rect x="214.05" y="307.15" width="2.1" height="2.1" fill="#8790d2" stroke="none" stroke-width="0"/>
<polyline points="41,264.6 45.2,264" fill="none" stroke="#8790d2" stroke-width="1.0" stroke-linejoin="round" stroke-linecap="round" stroke-dasharray="0.8,1"/>
<polyline points="45.2,263.9 60,264.3 85,264.5 92,265.3 104,264.6 116,263.9 131.7,264.8 143.6,266.8 165.7,266 199.2,266.6 219.9,267" fill="none" stroke="#3b47ad" stroke-width="1.7" stroke-linejoin="round" stroke-linecap="round"/>
<polyline points="41.3,264.8 44.5,270 47.9,275.3" fill="none" stroke="#eb9e80" stroke-width="1.0" stroke-linejoin="round" stroke-linecap="round" stroke-dasharray="0.8,1"/>
<polyline points="47.9,275.3 63.6,281.2 80.2,288.2 96.7,295 112.1,297.6 131.7,298.2 148.4,296.5 170,296.6 203.7,296.8" fill="none" stroke="#d2561f" stroke-width="1.7" stroke-linejoin="round" stroke-linecap="round"/>
<line x1="264.6" y1="227" x2="264.6" y2="311.3" stroke="#444" stroke-width="1.2"/>
<line x1="257.8" y1="227" x2="271.1" y2="227" stroke="#555" stroke-width="1.5"/>
<line x1="258.5" y1="311.3" x2="271.1" y2="311.3" stroke="#555" stroke-width="1.5"/>
<rect x="251.7" y="250.1" width="25.7" height="27.3" fill="#a9dbe8" stroke="#3d3d3d" stroke-width="1.3"/>
<line x1="252.4" y1="264.5" x2="276.7" y2="264.5" stroke="#1a1a1a" stroke-width="1.8"/>
<line x1="308.3" y1="263.7" x2="308.3" y2="335.4" stroke="#444" stroke-width="1.2"/>
<line x1="302.2" y1="263.7" x2="315.3" y2="263.7" stroke="#666" stroke-width="1.5"/>
<line x1="302.5" y1="335.4" x2="314.6" y2="335.4" stroke="#555" stroke-width="1.5"/>
<rect x="295.7" y="289" width="25.7" height="18.6" fill="#dcbf93" stroke="#3d3d3d" stroke-width="1.3"/>
<line x1="296.4" y1="297.3" x2="320.7" y2="297.3" stroke="#1a1a1a" stroke-width="1.8"/>
<circle cx="264.4" cy="192.9" r="0.95" fill="#3b47ad"/>
<circle cx="262.7" cy="226.8" r="0.95" fill="#3b47ad"/>
<circle cx="261.8" cy="230.5" r="0.95" fill="#3b47ad"/>
<circle cx="264" cy="232.1" r="0.95" fill="#3b47ad"/>
<circle cx="265.3" cy="233.4" r="0.95" fill="#3b47ad"/>
<circle cx="260.7" cy="239" r="0.95" fill="#3b47ad"/>
<circle cx="266.2" cy="240.7" r="0.95" fill="#3b47ad"/>
<circle cx="268" cy="239.7" r="0.95" fill="#3b47ad"/>
<circle cx="255.8" cy="243.6" r="0.95" fill="#3b47ad"/>
<circle cx="257.1" cy="245.6" r="0.95" fill="#3b47ad"/>
<circle cx="259.2" cy="244.3" r="0.95" fill="#3b47ad"/>
<circle cx="269.9" cy="245.8" r="0.95" fill="#3b47ad"/>
<circle cx="258.1" cy="249.1" r="0.95" fill="#3b47ad"/>
<circle cx="268.6" cy="248.6" r="0.95" fill="#3b47ad"/>
<circle cx="262.7" cy="250.8" r="0.95" fill="#3b47ad"/>
<circle cx="264" cy="252.8" r="0.95" fill="#3b47ad"/>
<circle cx="254.4" cy="255.1" r="0.95" fill="#3b47ad"/>
<circle cx="261.4" cy="254.8" r="0.95" fill="#3b47ad"/>
<circle cx="265.3" cy="254.4" r="0.95" fill="#3b47ad"/>
<circle cx="267.3" cy="255.1" r="0.95" fill="#3b47ad"/>
<circle cx="268.3" cy="255.1" r="0.95" fill="#3b47ad"/>
<circle cx="271.2" cy="254.8" r="0.95" fill="#3b47ad"/>
<circle cx="264.4" cy="256.5" r="0.95" fill="#3b47ad"/>
<circle cx="273.9" cy="258" r="0.95" fill="#3b47ad"/>
<circle cx="272.8" cy="259.3" r="0.95" fill="#3b47ad"/>
<circle cx="260.1" cy="260.9" r="0.95" fill="#3b47ad"/>
<circle cx="272.3" cy="260.9" r="0.95" fill="#3b47ad"/>
<circle cx="256.8" cy="263.9" r="0.95" fill="#3b47ad"/>
<circle cx="259.4" cy="265.6" r="0.95" fill="#3b47ad"/>
<circle cx="262.7" cy="265.6" r="0.95" fill="#3b47ad"/>
<circle cx="266" cy="266.2" r="0.95" fill="#3b47ad"/>
<circle cx="263.6" cy="267.2" r="0.95" fill="#3b47ad"/>
<circle cx="273.6" cy="266.2" r="0.95" fill="#3b47ad"/>
<circle cx="272.5" cy="267.5" r="0.95" fill="#3b47ad"/>
<circle cx="255.8" cy="268.8" r="0.95" fill="#3b47ad"/>
<circle cx="259.4" cy="265.7" r="0.95" fill="#3b47ad"/>
<circle cx="263.6" cy="267.4" r="0.95" fill="#3b47ad"/>
<circle cx="266.6" cy="267.6" r="0.95" fill="#3b47ad"/>
<circle cx="273.2" cy="267" r="0.95" fill="#3b47ad"/>
<circle cx="275.8" cy="268.9" r="0.95" fill="#3b47ad"/>
<circle cx="255.5" cy="268.9" r="0.95" fill="#3b47ad"/>
<circle cx="257.9" cy="271.3" r="0.95" fill="#3b47ad"/>
<circle cx="252.2" cy="271.8" r="0.95" fill="#3b47ad"/>
<circle cx="253.5" cy="273.5" r="0.95" fill="#3b47ad"/>
<circle cx="254.8" cy="273.9" r="0.95" fill="#3b47ad"/>
<circle cx="264.4" cy="275.2" r="0.95" fill="#3b47ad"/>
<circle cx="268.6" cy="274.8" r="0.95" fill="#3b47ad"/>
<circle cx="269.9" cy="275.2" r="0.95" fill="#3b47ad"/>
<circle cx="260.5" cy="277.9" r="0.95" fill="#3b47ad"/>
<circle cx="268.3" cy="277.9" r="0.95" fill="#3b47ad"/>
<circle cx="271.2" cy="277.5" r="0.95" fill="#3b47ad"/>
<circle cx="276.5" cy="277.1" r="0.95" fill="#3b47ad"/>
<circle cx="262" cy="281.4" r="0.95" fill="#3b47ad"/>
<circle cx="266.6" cy="281" r="0.95" fill="#3b47ad"/>
<circle cx="268.9" cy="282.7" r="0.95" fill="#3b47ad"/>
<circle cx="264.7" cy="284" r="0.95" fill="#3b47ad"/>
<circle cx="265.7" cy="284" r="0.95" fill="#3b47ad"/>
<circle cx="261" cy="284.9" r="0.95" fill="#3b47ad"/>
<circle cx="260.1" cy="291.2" r="0.95" fill="#3b47ad"/>
<circle cx="263.4" cy="290.6" r="0.95" fill="#3b47ad"/>
<circle cx="268" cy="292.8" r="0.95" fill="#3b47ad"/>
<circle cx="264" cy="308" r="0.95" fill="#3b47ad"/>
<circle cx="264.9" cy="311.2" r="0.95" fill="#3b47ad"/>
<circle cx="264.5" cy="342.4" r="0.95" fill="#3b47ad"/>
<circle cx="308.8" cy="220.4" r="0.95" fill="#d2561f"/>
<circle cx="308.6" cy="235.5" r="0.95" fill="#d2561f"/>
<circle cx="307.7" cy="248" r="0.95" fill="#d2561f"/>
<circle cx="308.8" cy="247.6" r="0.95" fill="#d2561f"/>
<circle cx="309.4" cy="252.3" r="0.95" fill="#d2561f"/>
<circle cx="308.4" cy="255.6" r="0.95" fill="#d2561f"/>
<circle cx="308.8" cy="264" r="0.95" fill="#d2561f"/>
<circle cx="307.7" cy="271.6" r="0.95" fill="#d2561f"/>
<circle cx="308.8" cy="271.6" r="0.95" fill="#d2561f"/>
<circle cx="308.4" cy="272" r="0.95" fill="#d2561f"/>
<circle cx="309" cy="275.9" r="0.95" fill="#d2561f"/>
<circle cx="309.7" cy="276.6" r="0.95" fill="#d2561f"/>
<circle cx="297.2" cy="282.5" r="0.95" fill="#d2561f"/>
<circle cx="299.8" cy="284.2" r="0.95" fill="#d2561f"/>
<circle cx="302.1" cy="282.9" r="0.95" fill="#d2561f"/>
<circle cx="305.5" cy="282.5" r="0.95" fill="#d2561f"/>
<circle cx="307" cy="280.5" r="0.95" fill="#d2561f"/>
<circle cx="314.3" cy="283.8" r="0.95" fill="#d2561f"/>
<circle cx="317.5" cy="281.5" r="0.95" fill="#d2561f"/>
<circle cx="298.5" cy="286.4" r="0.95" fill="#d2561f"/>
<circle cx="307.7" cy="286" r="0.95" fill="#d2561f"/>
<circle cx="296.3" cy="289" r="0.95" fill="#d2561f"/>
<circle cx="309" cy="288.4" r="0.95" fill="#d2561f"/>
<circle cx="305.7" cy="309.3" r="0.95" fill="#d2561f"/>
<circle cx="311" cy="309.3" r="0.95" fill="#d2561f"/>
<circle cx="313.6" cy="311.3" r="0.95" fill="#d2561f"/>
<circle cx="301.1" cy="313" r="0.95" fill="#d2561f"/>
<circle cx="306.4" cy="312" r="0.95" fill="#d2561f"/>
<circle cx="313" cy="313" r="0.95" fill="#d2561f"/>
<circle cx="303.1" cy="315.6" r="0.95" fill="#d2561f"/>
<circle cx="305.7" cy="314.9" r="0.95" fill="#d2561f"/>
<circle cx="314.3" cy="315.6" r="0.95" fill="#d2561f"/>
<circle cx="301.8" cy="316.6" r="0.95" fill="#d2561f"/>
<circle cx="304.2" cy="318.8" r="0.95" fill="#d2561f"/>
<circle cx="301" cy="313.1" r="0.95" fill="#d2561f"/>
<circle cx="301.9" cy="316.6" r="0.95" fill="#d2561f"/>
<circle cx="303.8" cy="315.3" r="0.95" fill="#d2561f"/>
<circle cx="305.4" cy="314.6" r="0.95" fill="#d2561f"/>
<circle cx="307.6" cy="312.8" r="0.95" fill="#d2561f"/>
<circle cx="312.6" cy="313.1" r="0.95" fill="#d2561f"/>
<circle cx="315.1" cy="315" r="0.95" fill="#d2561f"/>
<circle cx="311.5" cy="310.6" r="0.95" fill="#d2561f"/>
<circle cx="303.8" cy="318.8" r="0.95" fill="#d2561f"/>
<circle cx="307.6" cy="323.8" r="0.95" fill="#d2561f"/>
<circle cx="309.8" cy="326" r="0.95" fill="#d2561f"/>
<circle cx="310.4" cy="329.3" r="0.95" fill="#d2561f"/>
<circle cx="306.5" cy="332.6" r="0.95" fill="#d2561f"/>
<circle cx="308.2" cy="335.1" r="0.95" fill="#d2561f"/>
<circle cx="307.1" cy="339.8" r="0.95" fill="#d2561f"/>
<circle cx="309.3" cy="338.9" r="0.95" fill="#d2561f"/>
<circle cx="308.7" cy="344.7" r="0.95" fill="#d2561f"/>
<circle cx="307.63" cy="299.58" r="0.95" fill="#d2561f"/>
<circle cx="318.72" cy="297.88" r="0.95" fill="#d2561f"/>
<circle cx="308.93" cy="300.07" r="0.95" fill="#d2561f"/>
<circle cx="301.34" cy="298.71" r="0.95" fill="#d2561f"/>
<circle cx="311.8" cy="303.77" r="0.95" fill="#d2561f"/>
<circle cx="299.21" cy="294.96" r="0.95" fill="#d2561f"/>
<circle cx="299.13" cy="304.07" r="0.95" fill="#d2561f"/>
<circle cx="313.3" cy="290.25" r="0.95" fill="#d2561f"/>
<circle cx="320.08" cy="306.87" r="0.95" fill="#d2561f"/>
<circle cx="312.37" cy="300.58" r="0.95" fill="#d2561f"/>
<circle cx="300.7" cy="289.77" r="0.95" fill="#d2561f"/>
<circle cx="309.42" cy="290.57" r="0.95" fill="#d2561f"/>
<circle cx="301.47" cy="293.85" r="0.95" fill="#d2561f"/>
<circle cx="297.71" cy="297.85" r="0.95" fill="#d2561f"/>
<circle cx="307.35" cy="304.66" r="0.95" fill="#d2561f"/>
<circle cx="309.2" cy="301.03" r="0.95" fill="#d2561f"/>
<circle cx="308.74" cy="301.42" r="0.95" fill="#d2561f"/>
<circle cx="307.75" cy="294.51" r="0.95" fill="#d2561f"/>
<circle cx="320.44" cy="307.42" r="0.95" fill="#d2561f"/>
<circle cx="316.75" cy="302.24" r="0.95" fill="#d2561f"/>
<circle cx="304.41" cy="293.63" r="0.95" fill="#d2561f"/>
<circle cx="303.79" cy="290.76" r="0.95" fill="#d2561f"/>
<circle cx="315.01" cy="296.71" r="0.95" fill="#d2561f"/>
<circle cx="316.89" cy="296.46" r="0.95" fill="#d2561f"/>
<circle cx="319.51" cy="304.75" r="0.95" fill="#d2561f"/>
<circle cx="297.01" cy="293.27" r="0.95" fill="#d2561f"/>
<circle cx="318.39" cy="297.96" r="0.95" fill="#d2561f"/>
<circle cx="320.04" cy="296.65" r="0.95" fill="#d2561f"/>
<circle cx="298.72" cy="300.83" r="0.95" fill="#d2561f"/>
<circle cx="315.3" cy="294.36" r="0.95" fill="#d2561f"/>
<circle cx="299.05" cy="295.49" r="0.95" fill="#d2561f"/>
<circle cx="319.66" cy="303.14" r="0.95" fill="#d2561f"/>
<circle cx="299.77" cy="293.93" r="0.95" fill="#d2561f"/>
<circle cx="299.37" cy="290.58" r="0.95" fill="#d2561f"/>
<circle cx="315.73" cy="292.7" r="0.95" fill="#d2561f"/>
<circle cx="310.14" cy="297.55" r="0.95" fill="#d2561f"/>
<circle cx="301.48" cy="302.67" r="0.95" fill="#d2561f"/>
<circle cx="300.08" cy="301.09" r="0.95" fill="#d2561f"/>
<circle cx="299.74" cy="297.07" r="0.95" fill="#d2561f"/>
<circle cx="302" cy="294.36" r="0.95" fill="#d2561f"/>
<circle cx="319.82" cy="303.96" r="0.95" fill="#d2561f"/>
<circle cx="304.15" cy="305.43" r="0.95" fill="#d2561f"/>
</svg></body></html>
